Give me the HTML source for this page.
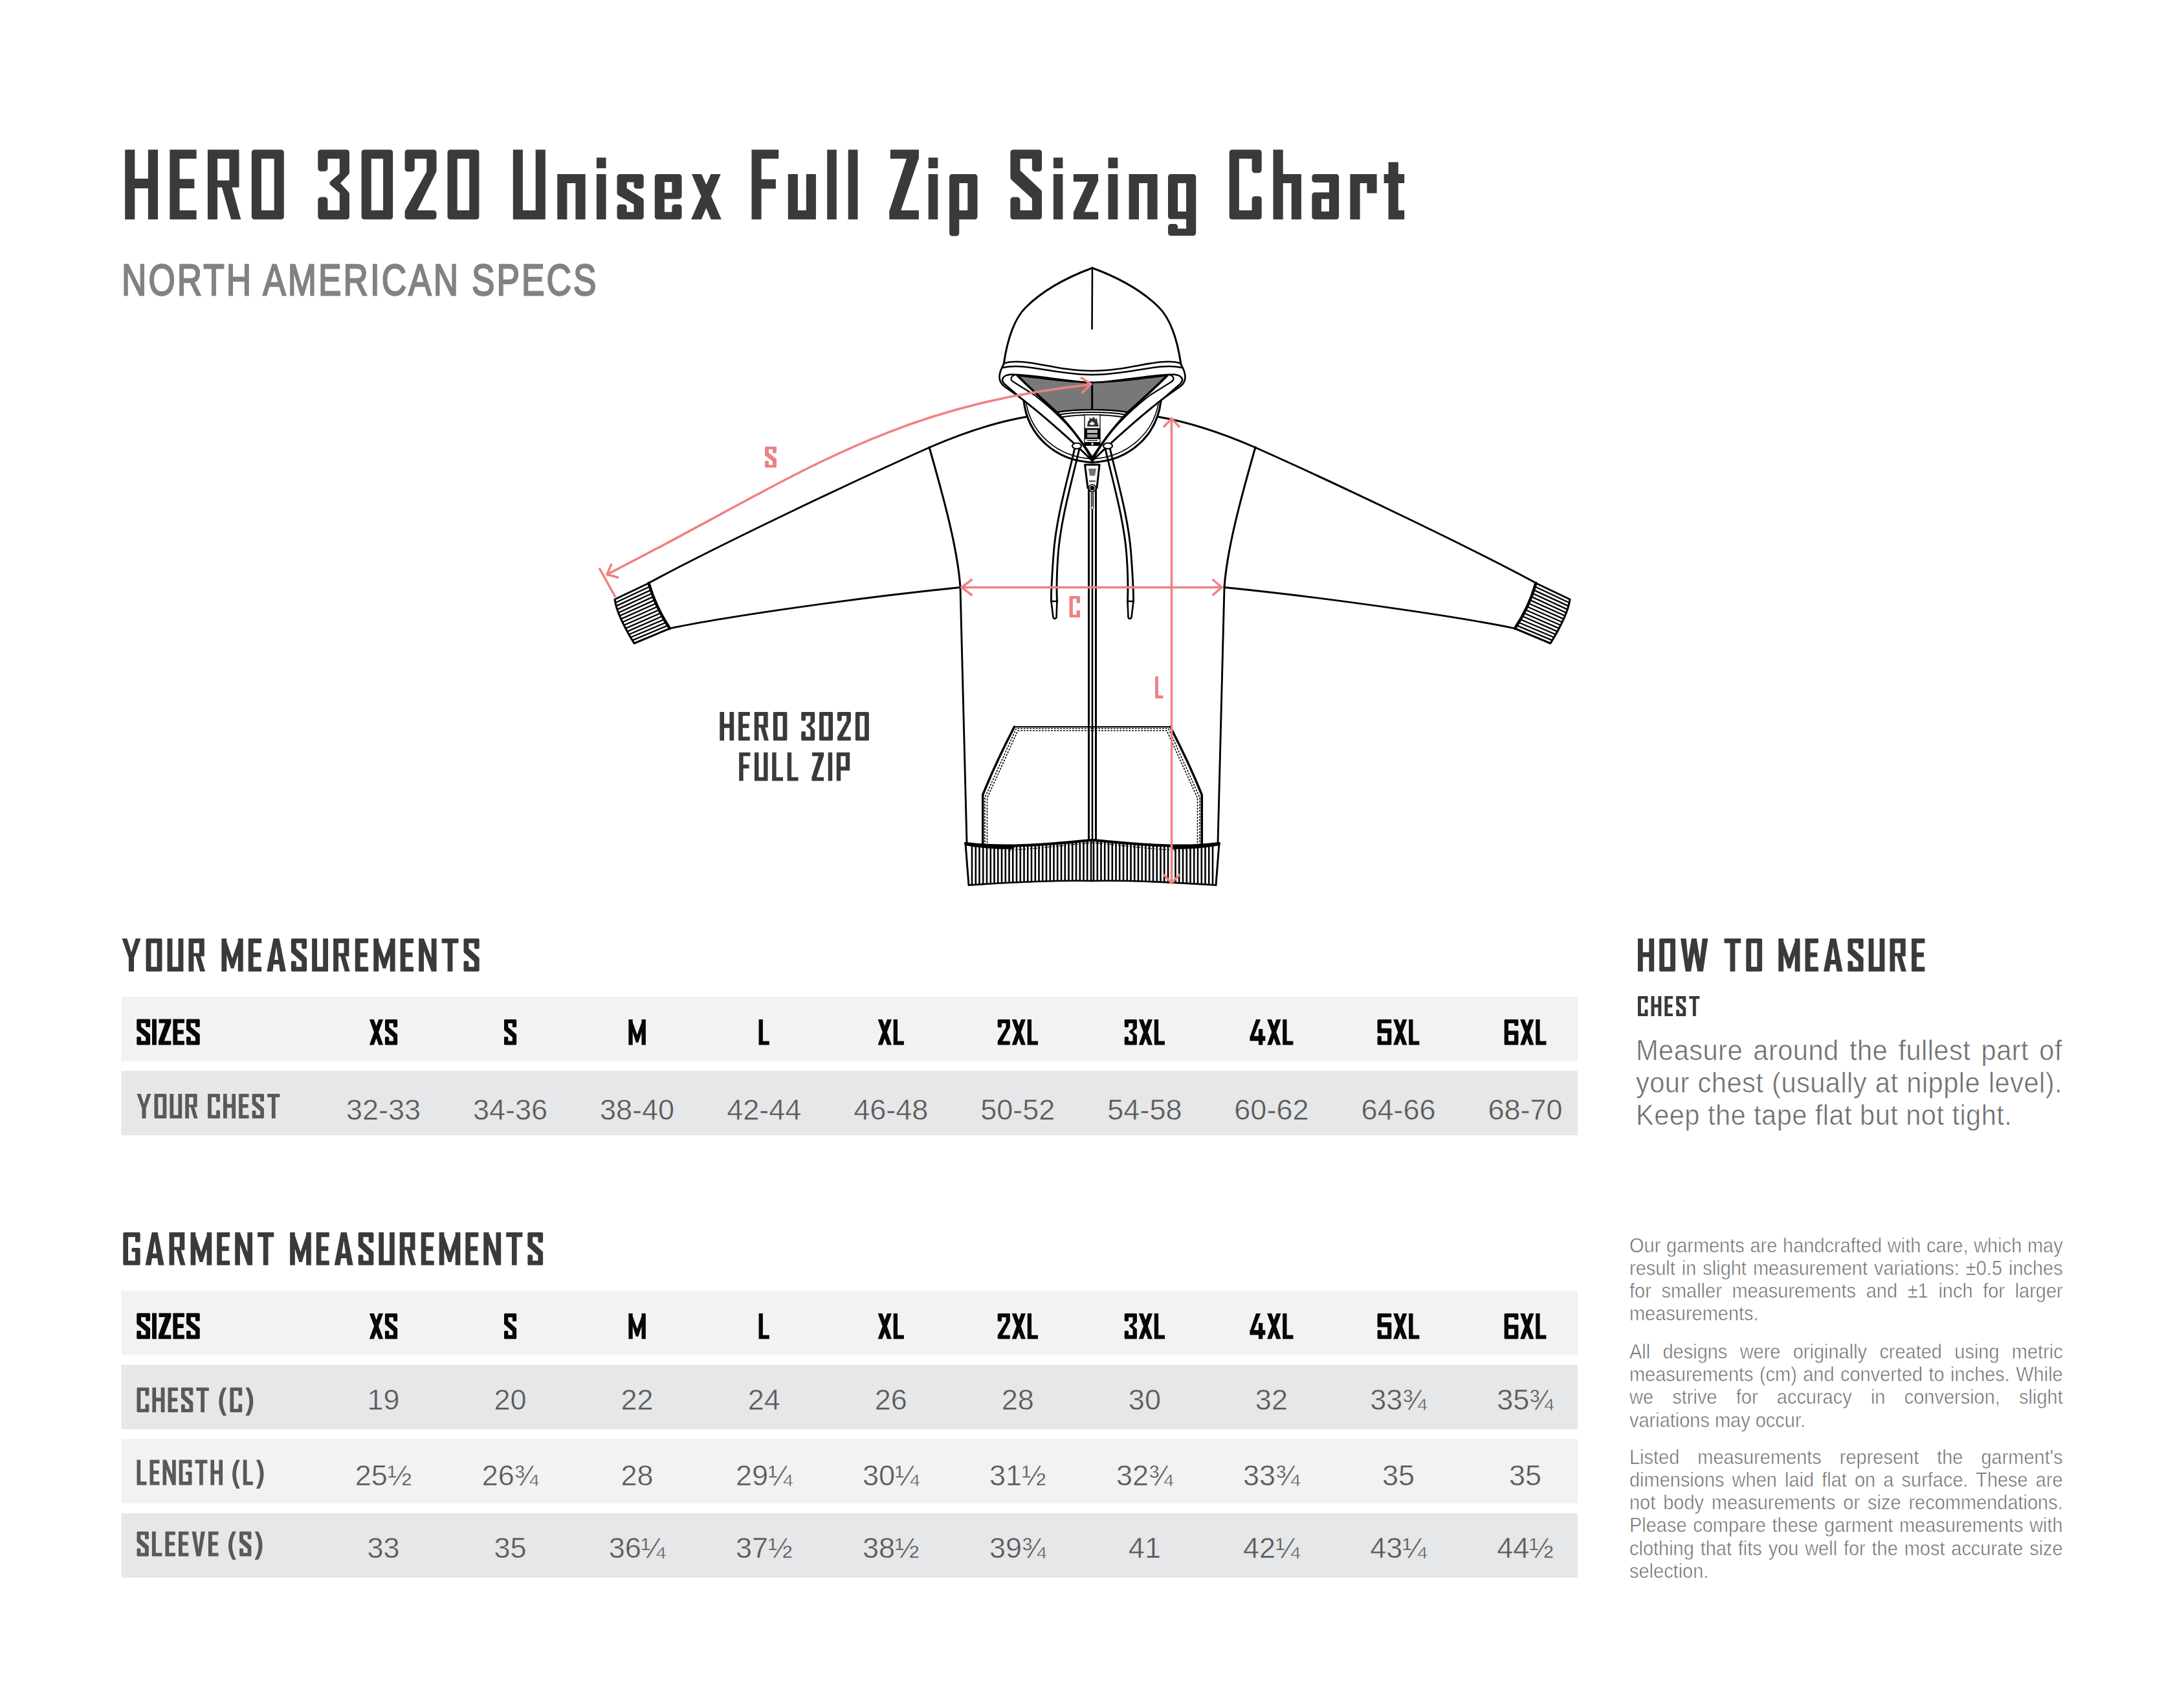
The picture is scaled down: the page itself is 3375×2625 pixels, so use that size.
<!DOCTYPE html>
<html><head><meta charset="utf-8">
<style>
html,body{margin:0;padding:0;background:#fff;}
body{width:3375px;height:2625px;position:relative;overflow:hidden;font-family:"Liberation Sans",sans-serif;}
svg{position:absolute;left:0;top:0;}
.num{font-family:"Liberation Sans",sans-serif;font-size:45px;fill:#58595b;text-anchor:middle;stroke-width:0.5px;paint-order:normal;}
.sub{position:absolute;left:0;top:0;font-size:70px;color:#808285;white-space:nowrap;transform-origin:0 0;-webkit-text-stroke:2.4px #808285;}
.para{position:absolute;color:#6d6e71;transform-origin:0 0;white-space:nowrap;-webkit-text-stroke:0.6px #fff;}
.para div{text-align:justify;text-align-last:justify;}
.para div.last{text-align-last:left;}
</style></head><body>
<svg width="3375" height="2625" viewBox="0 0 3375 2625">
<path fill="#3a3a3c" d="M193.20 231.20L208.33 231.20L208.33 339.10L193.20 339.10ZM228.87 231.20L244.00 231.20L244.00 339.10L228.87 339.10ZM193.20 275.98L244.00 275.98L244.00 291.08L193.20 291.08ZM262.40 231.20L277.58 231.20L277.58 339.10L262.40 339.10ZM262.40 231.20L303.60 231.20L303.60 245.23L262.40 245.23ZM262.40 276.52L300.35 276.52L300.35 291.08L262.40 291.08ZM262.40 325.07L303.60 325.07L303.60 339.10L262.40 339.10ZM320.90 231.20L336.02 231.20L336.02 339.10L320.90 339.10ZM320.90 231.20L369.49 231.20L369.49 245.23L320.90 245.23ZM354.37 231.20L369.49 231.20L369.49 289.47L354.37 289.47ZM320.90 278.68L369.49 278.68L369.49 289.47L320.90 289.47ZM339.80 278.68L355.45 278.68L372.30 339.10L357.18 339.10ZM388.80 334.78L388.80 235.52L389.13 233.86L390.07 232.46L391.47 231.53L393.12 231.20L434.48 231.20L436.13 231.53L437.53 232.46L438.47 233.86L438.80 235.52L438.80 334.78L438.47 336.44L437.53 337.84L436.13 338.77L434.48 339.10L393.12 339.10L391.47 338.77L390.07 337.84L389.13 336.44ZM403.92 245.65L403.92 324.65L403.99 325.00L404.34 325.07L423.26 325.07L423.61 325.00L423.68 324.65L423.68 245.65L423.61 245.30L423.26 245.23L404.34 245.23L403.99 245.30ZM491.30 260.33L491.30 235.52L491.63 233.86L492.57 232.46L493.97 231.53L495.62 231.20L535.58 231.20L537.23 231.53L538.63 232.46L539.57 233.86L539.90 235.52L539.90 266.59L539.59 268.19L538.70 269.57L526.14 282.70L525.95 282.99L526.14 283.29L538.75 296.86L539.60 298.22L539.90 299.79L539.90 334.78L539.57 336.44L538.63 337.84L537.23 338.77L535.58 339.10L495.62 339.10L493.97 338.77L492.57 337.84L491.63 336.44L491.30 334.78L491.30 308.89L491.63 307.24L492.57 305.84L493.97 304.90L495.62 304.57L502.10 304.57L503.75 304.90L505.15 305.84L506.09 307.24L506.42 308.89L506.42 324.65L506.49 325.00L506.85 325.07L524.35 325.07L524.71 325.00L524.78 324.65L524.78 298.57L524.69 298.14L524.42 297.79L510.90 286.33L509.77 284.84L509.37 283.01L509.79 281.18L510.95 279.71L524.41 268.62L524.68 268.27L524.78 267.84L524.78 245.65L524.71 245.30L524.35 245.23L506.85 245.23L506.49 245.30L506.42 245.65L506.42 260.33L506.09 261.98L505.15 263.38L503.75 264.32L502.10 264.65L495.62 264.65L493.97 264.32L492.57 263.38L491.63 261.98ZM558.60 334.78L558.60 235.52L558.93 233.86L559.87 232.46L561.27 231.53L562.92 231.20L602.88 231.20L604.53 231.53L605.93 232.46L606.87 233.86L607.20 235.52L607.20 334.78L606.87 336.44L605.93 337.84L604.53 338.77L602.88 339.10L562.92 339.10L561.27 338.77L559.87 337.84L558.93 336.44ZM573.72 245.65L573.72 324.65L573.79 325.00L574.15 325.07L591.65 325.07L592.01 325.00L592.08 324.65L592.08 245.65L592.01 245.30L591.65 245.23L574.15 245.23L573.79 245.30ZM625.60 260.87L625.60 235.52L625.93 233.86L626.87 232.46L628.28 231.53L629.95 231.20L670.15 231.20L671.82 231.53L673.23 232.46L674.17 233.86L674.50 235.52L674.50 264.18L674.05 266.09L644.89 324.68L644.81 325.01L645.14 325.07L670.15 325.07L671.82 325.40L673.23 326.34L674.17 327.74L674.50 329.39L674.50 334.78L674.17 336.44L673.23 337.84L671.82 338.77L670.15 339.10L629.95 339.10L628.28 338.77L626.87 337.84L625.93 336.44L625.60 334.78L625.60 326.73L626.14 324.64L659.02 265.67L659.29 264.64L659.29 245.65L659.22 245.30L658.86 245.23L641.24 245.23L640.88 245.30L640.81 245.65L640.81 260.87L640.48 262.52L639.54 263.92L638.13 264.86L636.47 265.19L629.95 265.19L628.28 264.86L626.87 263.92L625.93 262.52ZM691.50 334.78L691.50 235.52L691.83 233.86L692.77 232.46L694.18 231.53L695.85 231.20L736.05 231.20L737.72 231.53L739.13 232.46L740.07 233.86L740.40 235.52L740.40 334.78L740.07 336.44L739.13 337.84L737.72 338.77L736.05 339.10L695.85 339.10L694.18 338.77L692.77 337.84L691.83 336.44ZM706.71 245.65L706.71 324.65L706.78 325.00L707.14 325.07L724.76 325.07L725.12 325.00L725.19 324.65L725.19 245.65L725.12 245.30L724.76 245.23L707.14 245.23L706.78 245.30ZM792.80 231.20L807.92 231.20L807.92 339.10L792.80 339.10ZM827.68 231.20L842.80 231.20L842.80 339.10L827.68 339.10ZM792.80 325.07L842.80 325.07L842.80 339.10L792.80 339.10ZM861.20 268.97L876.39 268.97L876.39 339.10L861.20 339.10ZM889.41 268.97L904.60 268.97L904.60 339.10L889.41 339.10ZM861.20 268.97L904.60 268.97L904.60 282.99L861.20 282.99ZM921.90 243.61L936.50 243.61L936.50 260.01L921.90 260.01ZM921.90 268.97L936.50 268.97L936.50 339.10L921.90 339.10ZM953.50 298.21L953.50 273.28L953.83 271.63L954.77 270.23L956.18 269.29L957.84 268.97L990.36 268.97L992.02 269.29L993.43 270.23L994.37 271.63L994.70 273.28L994.70 287.31L994.37 288.96L993.43 290.36L992.02 291.30L990.36 291.62L983.86 291.62L982.20 291.30L980.79 290.36L979.85 288.96L979.52 287.31L979.52 281.91L979.45 281.55L979.09 281.48L969.11 281.48L968.75 281.55L968.68 281.91L968.68 290.72L968.74 291.05L968.99 291.28L992.66 306.00L993.75 306.97L994.46 308.23L994.70 309.66L994.70 334.78L994.37 336.44L993.43 337.84L992.02 338.77L990.36 339.10L957.84 339.10L956.18 338.77L954.77 337.84L953.83 336.44L953.50 334.78L953.50 320.11L953.83 318.46L954.77 317.06L956.18 316.12L957.84 315.79L964.34 315.79L966.00 316.12L967.41 317.06L968.35 318.46L968.68 320.11L968.68 327.13L968.75 327.48L969.11 327.55L979.09 327.55L979.45 327.48L979.52 327.13L979.52 316.17L979.46 315.83L979.19 315.60L955.65 301.94L954.51 300.97L953.76 299.68ZM1011.80 334.78L1011.80 273.28L1012.13 271.63L1013.06 270.23L1014.46 269.29L1016.11 268.97L1049.19 268.97L1050.84 269.29L1052.24 270.23L1053.17 271.63L1053.50 273.28L1053.50 303.06L1053.17 304.71L1052.24 306.11L1050.84 307.05L1049.19 307.38L1027.31 307.38L1026.96 307.45L1026.89 307.80L1026.89 327.13L1026.96 327.48L1027.31 327.55L1037.99 327.55L1038.34 327.48L1038.41 327.13L1038.41 320.11L1038.74 318.46L1039.68 317.06L1041.08 316.12L1042.72 315.79L1049.19 315.79L1050.84 316.12L1052.24 317.06L1053.17 318.46L1053.50 320.11L1053.50 334.78L1053.17 336.44L1052.24 337.84L1050.84 338.77L1049.19 339.10L1016.11 339.10L1014.46 338.77L1013.06 337.84L1012.13 336.44ZM1026.96 281.44L1026.89 281.80L1026.89 297.24L1026.96 297.60L1027.31 297.67L1037.99 297.67L1038.34 297.60L1038.41 297.24L1038.41 281.80L1038.34 281.44L1037.99 281.37L1027.31 281.37ZM1068.97 268.97L1084.17 268.97L1114.80 339.10L1098.73 339.10ZM1098.51 268.97L1113.71 268.97L1083.85 339.10L1068.10 339.10ZM1161.50 231.20L1176.59 231.20L1176.59 339.10L1161.50 339.10ZM1161.50 231.20L1203.20 231.20L1203.20 245.23L1161.50 245.23ZM1161.50 277.06L1198.89 277.06L1198.89 291.62L1161.50 291.62ZM1217.80 268.97L1232.88 268.97L1232.88 339.10L1217.80 339.10ZM1245.82 268.97L1260.90 268.97L1260.90 339.10L1245.82 339.10ZM1217.80 325.07L1260.90 325.07L1260.90 339.10L1217.80 339.10ZM1278.20 231.20L1292.80 231.20L1292.80 339.10L1278.20 339.10ZM1310.70 231.20L1325.50 231.20L1325.50 339.10L1310.70 339.10ZM1375.92 231.20L1419.90 231.20L1419.90 245.23L1375.92 245.23ZM1401.31 244.15L1419.90 244.15L1391.81 326.15L1374.30 326.15ZM1374.30 325.07L1419.90 325.07L1419.90 339.10L1374.30 339.10ZM1434.70 243.61L1449.30 243.61L1449.30 260.01L1434.70 260.01ZM1434.70 268.97L1449.30 268.97L1449.30 339.10L1434.70 339.10ZM1482.36 339.17L1482.29 339.53L1482.29 360.36L1481.96 362.01L1481.02 363.41L1479.61 364.34L1477.95 364.67L1471.44 364.67L1469.78 364.34L1468.37 363.41L1467.43 362.01L1467.10 360.36L1467.10 273.28L1467.43 271.63L1468.37 270.23L1469.78 269.29L1471.44 268.97L1506.16 268.97L1507.82 269.29L1509.23 270.23L1510.17 271.63L1510.50 273.28L1510.50 334.78L1510.17 336.44L1509.23 337.84L1507.82 338.77L1506.16 339.10L1482.72 339.10ZM1482.36 283.06L1482.29 283.42L1482.29 324.65L1482.36 325.00L1482.72 325.07L1494.88 325.07L1495.24 325.00L1495.31 324.65L1495.31 283.42L1495.24 283.06L1494.88 282.99L1482.72 282.99ZM1561.40 274.60L1561.40 235.52L1561.73 233.86L1562.67 232.46L1564.07 231.53L1565.72 231.20L1605.68 231.20L1607.33 231.53L1608.73 232.46L1609.67 233.86L1610.00 235.52L1610.00 260.66L1609.67 262.31L1608.73 263.71L1607.33 264.64L1605.68 264.97L1599.20 264.97L1597.55 264.64L1596.15 263.71L1595.21 262.31L1594.88 260.66L1594.88 245.65L1594.81 245.30L1594.45 245.23L1576.95 245.23L1576.59 245.30L1576.52 245.65L1576.52 263.13L1576.60 263.53L1576.84 263.87L1608.63 293.58L1609.64 295.02L1610.00 296.73L1610.00 334.78L1609.67 336.44L1608.73 337.84L1607.33 338.77L1605.68 339.10L1565.72 339.10L1564.07 338.77L1562.67 337.84L1561.73 336.44L1561.40 334.78L1561.40 308.89L1561.73 307.24L1562.67 305.84L1564.07 304.90L1565.72 304.57L1572.20 304.57L1573.85 304.90L1575.25 305.84L1576.19 307.24L1576.52 308.89L1576.52 324.65L1576.59 325.00L1576.95 325.07L1594.45 325.07L1594.81 325.00L1594.88 324.65L1594.88 307.18L1594.79 306.77L1594.54 306.43L1562.82 277.80L1561.77 276.35ZM1627.90 243.61L1642.40 243.61L1642.40 260.01L1627.90 260.01ZM1627.90 268.97L1642.40 268.97L1642.40 339.10L1627.90 339.10ZM1658.90 268.97L1697.10 268.97L1697.10 280.83L1658.90 280.83ZM1681.45 279.75L1697.10 279.75L1675.41 328.31L1658.90 328.31ZM1658.90 327.55L1697.10 327.55L1697.10 339.10L1658.90 339.10ZM1712.50 243.61L1727.30 243.61L1727.30 260.01L1712.50 260.01ZM1712.50 268.97L1727.30 268.97L1727.30 339.10L1712.50 339.10ZM1744.60 268.97L1760.00 268.97L1760.00 339.10L1744.60 339.10ZM1773.20 268.97L1788.60 268.97L1788.60 339.10L1773.20 339.10ZM1744.60 268.97L1788.60 268.97L1788.60 282.99L1744.60 282.99ZM1805.00 334.24L1805.00 273.28L1805.33 271.63L1806.27 270.23L1807.67 269.29L1809.32 268.97L1843.88 268.97L1845.53 269.29L1846.93 270.23L1847.87 271.63L1848.20 273.28L1848.20 359.92L1847.87 361.58L1846.93 362.98L1845.53 363.91L1843.88 364.24L1820.12 364.24L1809.32 364.24L1807.67 363.91L1806.27 362.98L1805.33 361.58L1805.00 359.92L1805.00 350.32L1805.33 348.67L1806.27 347.27L1807.67 346.33L1809.32 346.01L1815.80 346.01L1817.45 346.33L1818.85 347.27L1819.79 348.67L1820.12 350.32L1820.12 352.70L1820.19 353.06L1820.55 353.13L1832.65 353.13L1833.01 353.06L1833.08 352.70L1833.08 338.99L1833.01 338.63L1832.65 338.56L1809.32 338.56L1807.67 338.23L1806.27 337.30L1805.33 335.90ZM1820.12 283.42L1820.12 326.27L1820.19 326.62L1820.55 326.69L1832.65 326.69L1833.01 326.62L1833.08 326.27L1833.08 283.42L1833.01 283.06L1832.65 282.99L1820.55 282.99L1820.19 283.06ZM1914.89 245.30L1914.82 245.65L1914.82 324.65L1914.89 325.00L1915.24 325.07L1934.16 325.07L1934.51 325.00L1934.58 324.65L1934.58 307.49L1934.91 305.83L1935.85 304.43L1937.25 303.50L1938.90 303.17L1945.38 303.17L1947.03 303.50L1948.43 304.43L1949.37 305.83L1949.70 307.49L1949.70 334.78L1949.37 336.44L1948.43 337.84L1947.03 338.77L1945.38 339.10L1904.02 339.10L1902.37 338.77L1900.97 337.84L1900.03 336.44L1899.70 334.78L1899.70 235.52L1900.03 233.86L1900.97 232.46L1902.37 231.53L1904.02 231.20L1945.38 231.20L1947.03 231.53L1948.43 232.46L1949.37 233.86L1949.70 235.52L1949.70 262.81L1949.37 264.47L1948.43 265.87L1947.03 266.80L1945.38 267.13L1938.90 267.13L1937.25 266.80L1935.85 265.87L1934.91 264.47L1934.58 262.81L1934.58 245.65L1934.51 245.30L1934.16 245.23L1915.24 245.23ZM1967.50 231.20L1982.69 231.20L1982.69 339.10L1967.50 339.10ZM1995.71 268.97L2010.90 268.97L2010.90 339.10L1995.71 339.10ZM1967.50 268.97L2010.90 268.97L2010.90 282.99L1967.50 282.99ZM2053.59 281.91L2031.71 281.91L2030.06 281.58L2028.66 280.65L2027.73 279.25L2027.40 277.60L2027.40 273.28L2027.73 271.63L2028.66 270.23L2030.06 269.29L2031.71 268.97L2064.79 268.97L2066.44 269.29L2067.84 270.23L2068.77 271.63L2069.10 273.28L2069.10 334.78L2068.77 336.44L2067.84 337.84L2066.44 338.77L2064.79 339.10L2031.71 339.10L2030.06 338.77L2028.66 337.84L2027.73 336.44L2027.40 334.78L2027.40 301.66L2027.73 300.01L2028.66 298.61L2030.06 297.67L2031.71 297.34L2053.59 297.34L2053.94 297.27L2054.01 296.92L2054.01 282.34L2053.94 281.98ZM2042.02 307.56L2041.95 307.91L2041.95 326.27L2042.02 326.62L2042.37 326.69L2053.59 326.69L2053.94 326.62L2054.01 326.27L2054.01 307.91L2053.94 307.56L2053.59 307.49L2042.37 307.49ZM2086.40 268.97L2101.58 268.97L2101.58 339.10L2086.40 339.10ZM2086.40 268.97L2127.60 268.97L2127.60 282.99L2086.40 282.99ZM2112.42 268.97L2127.60 268.97L2127.60 298.42L2112.42 298.42ZM2145.57 250.62L2160.83 250.62L2160.83 339.10L2145.57 339.10ZM2138.60 268.97L2170.20 268.97L2170.20 282.99L2138.60 282.99ZM2145.57 325.07L2170.20 325.07L2170.20 339.10L2145.57 339.10Z"/>
<g><path stroke="#000" fill="none" stroke-linecap="round" stroke-linejoin="round" stroke-width="3" d="M1002,901 C1100,848 1300,752 1437,691 C1490,668 1540,652 1586,644"/>
<path stroke="#000" fill="none" stroke-linecap="round" stroke-linejoin="round" stroke-width="2.8" d="M1035,971 C1100,957 1300,926 1484,907.5"/>
<path stroke="#000" fill="none" stroke-linecap="round" stroke-linejoin="round" stroke-width="3" d="M1436,691 C1460,775 1480,850 1484,907.5"/>
<path stroke="#000" fill="none" stroke-linecap="round" stroke-linejoin="round" stroke-width="2.9" d="M1484,907.5 C1486,1000 1490,1150 1494,1302"/>
<path stroke="#000" fill="none" stroke-linecap="round" stroke-linejoin="round" stroke-width="3" d="M950,926 Q953,950 980,994 L1035,971 Q1013,938 1002.5,901 Z"/>
<path stroke="#000" fill="none" stroke-linecap="round" stroke-linejoin="round" stroke-width="4.5" d="M1002.5,901 Q1013,938 1035,971"/>
<path stroke="#000" fill="none" stroke-linecap="round" stroke-linejoin="round" stroke-width="2.3" d="M950.9,931.3 L1004.1,906.3 M952.2,936.4 L1005.8,911.6 M953.8,941.6 L1007.5,916.7 M955.6,946.7 L1009.5,921.9 M957.5,951.5 L1011.6,927.1 M959.6,956.4 L1013.7,932.3 M961.9,961.3 L1016.0,937.3 M964.2,966.0 L1018.4,942.2 M966.8,970.9 L1020.9,947.2 M969.3,975.6 L1023.5,952.0 M971.9,980.2 L1026.3,957.0 M974.5,984.8 L1029.1,961.7 M977.2,989.4 L1032.0,966.4"/>
<path stroke="#000" fill="none" stroke-linecap="round" stroke-linejoin="round" stroke-width="4.2" d="M1492,1303 C1560,1312 1640,1302 1688,1298"/>
<path stroke="#000" fill="none" stroke-linecap="round" stroke-linejoin="round" stroke-width="5" d="M1493,1304 C1515,1308 1540,1309.5 1565,1309.5"/>
<path stroke="#000" fill="none" stroke-width="1.3" stroke-dasharray="2.5 2" d="M1560,1313.5 C1620,1310 1650,1305 1688,1302"/>
<path stroke="#000" fill="none" stroke-linecap="round" stroke-linejoin="round" stroke-width="2.6" d="M1497,1367.5 C1580,1362 1640,1360 1688,1361"/>
<path stroke="#000" fill="none" stroke-linecap="round" stroke-linejoin="round" stroke-width="3" d="M1492,1303 L1497,1367.5"/>
<path stroke="#000" fill="none" stroke-linecap="round" stroke-linejoin="round" stroke-width="2.6" d="M1502.0,1306.2 L1502.0,1367.2 M1507.8,1306.7 L1507.8,1366.8 M1513.5,1307.2 L1513.5,1366.4 M1519.2,1307.6 L1519.2,1366.1 M1525.0,1308.0 L1525.0,1365.7 M1530.8,1308.2 L1530.8,1365.4 M1536.5,1308.4 L1536.5,1365.1 M1542.2,1308.5 L1542.2,1364.7 M1548.0,1308.6 L1548.0,1364.4 M1553.8,1308.6 L1553.8,1364.1 M1559.5,1308.6 L1559.5,1363.8 M1565.2,1308.6 L1565.2,1363.5 M1571.0,1308.4 L1571.0,1363.2 M1576.8,1308.3 L1576.8,1362.9 M1582.5,1308.1 L1582.5,1362.7 M1588.2,1307.8 L1588.2,1362.5 M1594.0,1307.5 L1594.0,1362.2 M1599.8,1307.3 L1599.8,1362.0 M1605.5,1306.9 L1605.5,1361.8 M1611.2,1306.6 L1611.2,1361.6 M1617.0,1306.2 L1617.0,1361.5 M1622.8,1305.7 L1622.8,1361.3 M1628.5,1305.3 L1628.5,1361.2 M1634.2,1304.8 L1634.2,1361.0 M1640.0,1304.3 L1640.0,1360.9 M1645.8,1303.8 L1645.8,1360.9 M1651.5,1303.3 L1651.5,1360.8 M1657.2,1302.8 L1657.2,1360.8 M1663.0,1302.3 L1663.0,1360.8 M1668.8,1301.7 L1668.8,1360.8 M1674.5,1301.2 L1674.5,1360.8 M1680.2,1300.6 L1680.2,1360.9 M1686.0,1300.2 L1686.0,1361.0"/>
<path stroke="#000" fill="none" stroke-linecap="round" stroke-linejoin="round" stroke-width="2.2" d="M1688,1123 L1567.5,1123"/>
<path stroke="#000" fill="none" stroke-linecap="round" stroke-linejoin="round" stroke-width="3.6" d="M1567.5,1123 Q1538,1180 1518.75,1228 L1518.75,1304"/>
<path stroke="#000" fill="none" stroke-width="1.6" stroke-dasharray="2.8 1.9" d="M1688,1125.5 L1570.5,1125.5 L1522,1232 L1522,1304"/>
<path stroke="#000" fill="none" stroke-width="1.6" stroke-dasharray="2.8 1.9" d="M1688,1128.8 L1573,1128.8 L1525.5,1233 L1525.5,1304"/>
<path stroke="#000" fill="none" stroke-linecap="round" stroke-linejoin="round" stroke-width="3" d="M1551,563 C1558,515 1572,488 1585,475 C1612,448 1650,428 1688,414"/>
<path stroke="#000" fill="none" stroke-linecap="round" stroke-linejoin="round" stroke-width="2.6" d="M1552,561 C1585,552 1630,573 1688,573"/>
<path stroke="#000" fill="none" stroke-linecap="round" stroke-linejoin="round" stroke-width="2.4" d="M1550,568 C1585,560 1630,579 1688,579"/>
<path stroke="#000" fill="none" stroke-linecap="round" stroke-linejoin="round" stroke-width="2.6" d="M1551,563 C1544,575 1540,588 1552,597 L1578,615.5 C1610,640 1660,684 1688,712"/>
<path stroke="#000" stroke-width="2.4" fill="#787878" stroke-linejoin="round" d="M1572,580 C1615,585 1650,591 1688,591 L1688,633 C1670,633 1650,634 1633,637 C1610,615 1590,598 1572,580 Z"/>
<path stroke="#000" fill="none" stroke-linecap="round" stroke-linejoin="round" stroke-width="2.6" d="M1688,591 C1650,590 1600,579 1563,578.5 C1551,579 1545,586 1552,593 L1578,615.5 C1610,640 1660,684 1688,712"/>
<path stroke="#000" fill="none" stroke-linecap="round" stroke-linejoin="round" stroke-width="2.2" d="M1568,579.5 C1561,582 1561,587 1566,590 L1598,610 C1632,636 1662,666 1688,706"/>
<path stroke="#000" fill="none" stroke-linecap="round" stroke-linejoin="round" stroke-width="3.5" d="M1572,580 C1600,608 1620,625 1633,637 C1655,660 1675,685 1688,711"/>
<path stroke="#000" fill="none" stroke-linecap="round" stroke-linejoin="round" stroke-width="2.2" d="M1635,641 C1650,638 1670,637 1688,637"/>
<path stroke="#000" fill="none" stroke-linecap="round" stroke-linejoin="round" stroke-width="2" d="M1640,644.5 C1655,642 1672,641 1688,641"/>
<path stroke="#000" fill="none" stroke-linecap="round" stroke-linejoin="round" stroke-width="3.2" d="M1582,619 C1588,672 1630,712 1688,714.5"/>
<path stroke="#000" fill="none" stroke-linecap="round" stroke-linejoin="round" stroke-width="1.6" d="M1586,624 C1594,668 1632,706 1688,709"/>
<path stroke="#000" fill="none" stroke-linecap="round" stroke-linejoin="round" stroke-width="2.9" d="M1661,692 C1650,740 1632,800 1628,857 C1625,900 1624,915 1624.5,930"/>
<path stroke="#000" fill="none" stroke-linecap="round" stroke-linejoin="round" stroke-width="2.9" d="M1668,693 C1657,742 1639,802 1635,858 C1632,900 1633,915 1633.5,930"/>
<path stroke="#000" stroke-width="2.6" fill="#fff" stroke-linejoin="round" d="M1624.5,929 L1633.5,929 L1632.5,954 Q1630,958 1627.5,954 Z"/>
<ellipse cx="1664" cy="689" rx="7" ry="4.5" stroke="#000" stroke-width="2.2" fill="#fff"/></g>
<g transform="translate(3376,0) scale(-1,1)"><path stroke="#000" fill="none" stroke-linecap="round" stroke-linejoin="round" stroke-width="3" d="M1002,901 C1100,848 1300,752 1437,691 C1490,668 1540,652 1586,644"/>
<path stroke="#000" fill="none" stroke-linecap="round" stroke-linejoin="round" stroke-width="2.8" d="M1035,971 C1100,957 1300,926 1484,907.5"/>
<path stroke="#000" fill="none" stroke-linecap="round" stroke-linejoin="round" stroke-width="3" d="M1436,691 C1460,775 1480,850 1484,907.5"/>
<path stroke="#000" fill="none" stroke-linecap="round" stroke-linejoin="round" stroke-width="2.9" d="M1484,907.5 C1486,1000 1490,1150 1494,1302"/>
<path stroke="#000" fill="none" stroke-linecap="round" stroke-linejoin="round" stroke-width="3" d="M950,926 Q953,950 980,994 L1035,971 Q1013,938 1002.5,901 Z"/>
<path stroke="#000" fill="none" stroke-linecap="round" stroke-linejoin="round" stroke-width="4.5" d="M1002.5,901 Q1013,938 1035,971"/>
<path stroke="#000" fill="none" stroke-linecap="round" stroke-linejoin="round" stroke-width="2.3" d="M950.9,931.3 L1004.1,906.3 M952.2,936.4 L1005.8,911.6 M953.8,941.6 L1007.5,916.7 M955.6,946.7 L1009.5,921.9 M957.5,951.5 L1011.6,927.1 M959.6,956.4 L1013.7,932.3 M961.9,961.3 L1016.0,937.3 M964.2,966.0 L1018.4,942.2 M966.8,970.9 L1020.9,947.2 M969.3,975.6 L1023.5,952.0 M971.9,980.2 L1026.3,957.0 M974.5,984.8 L1029.1,961.7 M977.2,989.4 L1032.0,966.4"/>
<path stroke="#000" fill="none" stroke-linecap="round" stroke-linejoin="round" stroke-width="4.2" d="M1492,1303 C1560,1312 1640,1302 1688,1298"/>
<path stroke="#000" fill="none" stroke-linecap="round" stroke-linejoin="round" stroke-width="5" d="M1493,1304 C1515,1308 1540,1309.5 1565,1309.5"/>
<path stroke="#000" fill="none" stroke-width="1.3" stroke-dasharray="2.5 2" d="M1560,1313.5 C1620,1310 1650,1305 1688,1302"/>
<path stroke="#000" fill="none" stroke-linecap="round" stroke-linejoin="round" stroke-width="2.6" d="M1497,1367.5 C1580,1362 1640,1360 1688,1361"/>
<path stroke="#000" fill="none" stroke-linecap="round" stroke-linejoin="round" stroke-width="3" d="M1492,1303 L1497,1367.5"/>
<path stroke="#000" fill="none" stroke-linecap="round" stroke-linejoin="round" stroke-width="2.6" d="M1502.0,1306.2 L1502.0,1367.2 M1507.8,1306.7 L1507.8,1366.8 M1513.5,1307.2 L1513.5,1366.4 M1519.2,1307.6 L1519.2,1366.1 M1525.0,1308.0 L1525.0,1365.7 M1530.8,1308.2 L1530.8,1365.4 M1536.5,1308.4 L1536.5,1365.1 M1542.2,1308.5 L1542.2,1364.7 M1548.0,1308.6 L1548.0,1364.4 M1553.8,1308.6 L1553.8,1364.1 M1559.5,1308.6 L1559.5,1363.8 M1565.2,1308.6 L1565.2,1363.5 M1571.0,1308.4 L1571.0,1363.2 M1576.8,1308.3 L1576.8,1362.9 M1582.5,1308.1 L1582.5,1362.7 M1588.2,1307.8 L1588.2,1362.5 M1594.0,1307.5 L1594.0,1362.2 M1599.8,1307.3 L1599.8,1362.0 M1605.5,1306.9 L1605.5,1361.8 M1611.2,1306.6 L1611.2,1361.6 M1617.0,1306.2 L1617.0,1361.5 M1622.8,1305.7 L1622.8,1361.3 M1628.5,1305.3 L1628.5,1361.2 M1634.2,1304.8 L1634.2,1361.0 M1640.0,1304.3 L1640.0,1360.9 M1645.8,1303.8 L1645.8,1360.9 M1651.5,1303.3 L1651.5,1360.8 M1657.2,1302.8 L1657.2,1360.8 M1663.0,1302.3 L1663.0,1360.8 M1668.8,1301.7 L1668.8,1360.8 M1674.5,1301.2 L1674.5,1360.8 M1680.2,1300.6 L1680.2,1360.9 M1686.0,1300.2 L1686.0,1361.0"/>
<path stroke="#000" fill="none" stroke-linecap="round" stroke-linejoin="round" stroke-width="2.2" d="M1688,1123 L1567.5,1123"/>
<path stroke="#000" fill="none" stroke-linecap="round" stroke-linejoin="round" stroke-width="3.6" d="M1567.5,1123 Q1538,1180 1518.75,1228 L1518.75,1304"/>
<path stroke="#000" fill="none" stroke-width="1.6" stroke-dasharray="2.8 1.9" d="M1688,1125.5 L1570.5,1125.5 L1522,1232 L1522,1304"/>
<path stroke="#000" fill="none" stroke-width="1.6" stroke-dasharray="2.8 1.9" d="M1688,1128.8 L1573,1128.8 L1525.5,1233 L1525.5,1304"/>
<path stroke="#000" fill="none" stroke-linecap="round" stroke-linejoin="round" stroke-width="3" d="M1551,563 C1558,515 1572,488 1585,475 C1612,448 1650,428 1688,414"/>
<path stroke="#000" fill="none" stroke-linecap="round" stroke-linejoin="round" stroke-width="2.6" d="M1552,561 C1585,552 1630,573 1688,573"/>
<path stroke="#000" fill="none" stroke-linecap="round" stroke-linejoin="round" stroke-width="2.4" d="M1550,568 C1585,560 1630,579 1688,579"/>
<path stroke="#000" fill="none" stroke-linecap="round" stroke-linejoin="round" stroke-width="2.6" d="M1551,563 C1544,575 1540,588 1552,597 L1578,615.5 C1610,640 1660,684 1688,712"/>
<path stroke="#000" stroke-width="2.4" fill="#787878" stroke-linejoin="round" d="M1572,580 C1615,585 1650,591 1688,591 L1688,633 C1670,633 1650,634 1633,637 C1610,615 1590,598 1572,580 Z"/>
<path stroke="#000" fill="none" stroke-linecap="round" stroke-linejoin="round" stroke-width="2.6" d="M1688,591 C1650,590 1600,579 1563,578.5 C1551,579 1545,586 1552,593 L1578,615.5 C1610,640 1660,684 1688,712"/>
<path stroke="#000" fill="none" stroke-linecap="round" stroke-linejoin="round" stroke-width="2.2" d="M1568,579.5 C1561,582 1561,587 1566,590 L1598,610 C1632,636 1662,666 1688,706"/>
<path stroke="#000" fill="none" stroke-linecap="round" stroke-linejoin="round" stroke-width="3.5" d="M1572,580 C1600,608 1620,625 1633,637 C1655,660 1675,685 1688,711"/>
<path stroke="#000" fill="none" stroke-linecap="round" stroke-linejoin="round" stroke-width="2.2" d="M1635,641 C1650,638 1670,637 1688,637"/>
<path stroke="#000" fill="none" stroke-linecap="round" stroke-linejoin="round" stroke-width="2" d="M1640,644.5 C1655,642 1672,641 1688,641"/>
<path stroke="#000" fill="none" stroke-linecap="round" stroke-linejoin="round" stroke-width="3.2" d="M1582,619 C1588,672 1630,712 1688,714.5"/>
<path stroke="#000" fill="none" stroke-linecap="round" stroke-linejoin="round" stroke-width="1.6" d="M1586,624 C1594,668 1632,706 1688,709"/>
<path stroke="#000" fill="none" stroke-linecap="round" stroke-linejoin="round" stroke-width="2.9" d="M1661,692 C1650,740 1632,800 1628,857 C1625,900 1624,915 1624.5,930"/>
<path stroke="#000" fill="none" stroke-linecap="round" stroke-linejoin="round" stroke-width="2.9" d="M1668,693 C1657,742 1639,802 1635,858 C1632,900 1633,915 1633.5,930"/>
<path stroke="#000" stroke-width="2.6" fill="#fff" stroke-linejoin="round" d="M1624.5,929 L1633.5,929 L1632.5,954 Q1630,958 1627.5,954 Z"/>
<ellipse cx="1664" cy="689" rx="7" ry="4.5" stroke="#000" stroke-width="2.2" fill="#fff"/></g>
<path stroke="#000" fill="none" stroke-width="2.6" d="M1688,414 L1687.5,509"/>
<path stroke="#000" fill="none" stroke-width="2.4" d="M1687.5,591 L1687.5,633"/>
<path stroke="#000" fill="none" stroke-width="3" d="M1682.5,750 L1682.5,1299 M1693.5,750 L1693.5,1299"/>
<path stroke="#000" fill="none" stroke-width="2.6" d="M1688,786 L1688,1299"/>
<path stroke="#000" fill="none" stroke-width="0.9" d="M1686.2,760 L1686.2,786 M1689.8,760 L1689.8,786"/>
<path stroke="#000" stroke-width="3" fill="#fff" stroke-linejoin="round" d="M1676.5,718 L1699,718 L1695,754 L1681,754 Z"/>
<path fill="#000" d="M1682,724 L1694,724 L1692,735 L1684,735 Z" opacity="0.55"/>
<rect x="1683" y="742" width="10" height="3" fill="#777"/>
<circle cx="1688" cy="754" r="5.5" stroke="#000" stroke-width="1.6" fill="#fff"/>
<circle cx="1688" cy="754" r="3.6" fill="#000"/>
<path stroke="#000" fill="none" stroke-width="3" stroke-dasharray="1.4 1" d="M1688,761 L1688,783"/>
<rect x="1676" y="641" width="24" height="47" fill="#fff" stroke="#000" stroke-width="1.3"/>
<path fill="#000" d="M1680,659 L1681,652 L1684,648 L1683,645 L1687,647 L1690,644 L1693,648 L1695,646 L1696,652 L1698,659 Z" opacity="0.8"/>
<path fill="#fff" d="M1683,655 L1688,651 L1692,655 L1688,657 Z"/>
<rect x="1676" y="661.5" width="24" height="17" fill="#000"/>
<rect x="1680" y="664" width="16" height="5" fill="#bbb"/>
<rect x="1680" y="671" width="16" height="5" fill="#999"/>
<rect x="1680" y="680" width="16" height="1.2" fill="#000"/>
<rect x="1676" y="683" width="24" height="5.5" fill="#000"/>
<rect x="1686.5" y="684" width="3" height="3.5" fill="#ddd"/>
<path stroke="#ef8182" fill="none" stroke-width="3.5" stroke-linecap="butt" stroke-linejoin="miter" d="M938,887.5 C1227,741 1364,629 1686,594"/>
<path stroke="#ef8182" fill="none" stroke-width="3.5" stroke-linecap="butt" stroke-linejoin="miter" d="M926,877.5 L951,922.5"/>
<path stroke="#ef8182" fill="none" stroke-width="3.5" stroke-linecap="butt" stroke-linejoin="miter" d="M945,871 L938,887.5 L956,892.5"/>
<path stroke="#ef8182" fill="none" stroke-width="3.5" stroke-linecap="butt" stroke-linejoin="miter" d="M1670,583 L1686,593.5 L1671.5,607.5"/>
<path stroke="#ef8182" fill="none" stroke-width="3.5" stroke-linecap="butt" stroke-linejoin="miter" d="M1485,907.5 L1889,907.5"/>
<path stroke="#ef8182" fill="none" stroke-width="3.5" stroke-linecap="butt" stroke-linejoin="miter" d="M1502.5,895 L1486,907.5 L1502.5,920"/>
<path stroke="#ef8182" fill="none" stroke-width="3.5" stroke-linecap="butt" stroke-linejoin="miter" d="M1873.5,895 L1888,907.5 L1873.5,920"/>
<path stroke="#ef8182" fill="none" stroke-width="3.5" stroke-linecap="butt" stroke-linejoin="miter" d="M1810.5,646 L1810.5,1365"/>
<path stroke="#ef8182" fill="none" stroke-width="3.5" stroke-linecap="butt" stroke-linejoin="miter" d="M1798,660 L1810.5,646.5 L1823,660"/>
<path stroke="#ef8182" fill="none" stroke-width="3.5" stroke-linecap="butt" stroke-linejoin="miter" d="M1798,1351 L1810.5,1364.5 L1823,1351"/>
<path fill="#3a3a3c" d="M1112.30 1099.90L1119.04 1099.90L1119.04 1144.30L1112.30 1144.30ZM1127.41 1099.90L1134.15 1099.90L1134.15 1144.30L1127.41 1144.30ZM1112.30 1118.33L1134.15 1118.33L1134.15 1124.76L1112.30 1124.76ZM1141.12 1099.90L1147.86 1099.90L1147.86 1144.30L1141.12 1144.30ZM1141.12 1099.90L1158.78 1099.90L1158.78 1105.89L1141.12 1105.89ZM1141.12 1118.55L1157.39 1118.55L1157.39 1124.76L1141.12 1124.76ZM1141.12 1138.31L1158.78 1138.31L1158.78 1144.30L1141.12 1144.30ZM1165.75 1099.90L1172.49 1099.90L1172.49 1144.30L1165.75 1144.30ZM1165.75 1099.90L1186.67 1099.90L1186.67 1105.89L1165.75 1105.89ZM1179.93 1099.90L1186.67 1099.90L1186.67 1123.88L1179.93 1123.88ZM1165.75 1119.44L1186.67 1119.44L1186.67 1123.88L1165.75 1123.88ZM1174.12 1119.44L1180.86 1119.44L1187.88 1144.30L1181.14 1144.30ZM1194.85 1142.52L1194.85 1101.68L1194.99 1101.00L1195.40 1100.42L1196.00 1100.04L1196.71 1099.90L1214.51 1099.90L1215.22 1100.04L1215.83 1100.42L1216.23 1101.00L1216.37 1101.68L1216.37 1142.52L1216.23 1143.20L1215.83 1143.78L1215.22 1144.16L1214.51 1144.30L1196.71 1144.30L1196.00 1144.16L1195.40 1143.78L1194.99 1143.20ZM1201.59 1106.07L1201.59 1138.13L1201.62 1138.28L1201.77 1138.31L1209.45 1138.31L1209.60 1138.28L1209.63 1138.13L1209.63 1106.07L1209.60 1105.92L1209.45 1105.89L1201.77 1105.89L1201.62 1105.92ZM1238.22 1111.89L1238.22 1101.68L1238.36 1101.00L1238.76 1100.42L1239.37 1100.04L1240.08 1099.90L1257.27 1099.90L1257.99 1100.04L1258.59 1100.42L1258.99 1101.00L1259.13 1101.68L1259.13 1114.44L1258.99 1115.12L1258.59 1115.69L1252.99 1121.09L1252.90 1121.21L1252.98 1121.34L1258.61 1126.91L1259.00 1127.48L1259.13 1128.14L1259.13 1142.52L1258.99 1143.20L1258.59 1143.78L1257.99 1144.16L1257.27 1144.30L1240.08 1144.30L1239.37 1144.16L1238.76 1143.78L1238.36 1143.20L1238.22 1142.52L1238.22 1131.87L1238.36 1131.19L1238.76 1130.61L1239.37 1130.23L1240.08 1130.09L1243.10 1130.09L1243.81 1130.23L1244.41 1130.61L1244.82 1131.19L1244.96 1131.87L1244.96 1138.13L1244.99 1138.28L1245.14 1138.31L1252.21 1138.31L1252.36 1138.28L1252.39 1138.13L1252.39 1127.62L1252.36 1127.44L1252.24 1127.30L1246.58 1122.57L1246.11 1121.96L1245.94 1121.22L1246.12 1120.48L1246.60 1119.88L1252.24 1115.30L1252.35 1115.16L1252.39 1114.98L1252.39 1106.07L1252.36 1105.92L1252.21 1105.89L1245.14 1105.89L1244.99 1105.92L1244.96 1106.07L1244.96 1111.89L1244.82 1112.57L1244.41 1113.14L1243.81 1113.53L1243.10 1113.66L1240.08 1113.66L1239.37 1113.53L1238.76 1113.14L1238.36 1112.57ZM1266.11 1142.52L1266.11 1101.68L1266.25 1101.00L1266.65 1100.42L1267.25 1100.04L1267.97 1099.90L1285.16 1099.90L1285.87 1100.04L1286.48 1100.42L1286.88 1101.00L1287.02 1101.68L1287.02 1142.52L1286.88 1143.20L1286.48 1143.78L1285.87 1144.16L1285.16 1144.30L1267.97 1144.30L1267.25 1144.16L1266.65 1143.78L1266.25 1143.20ZM1272.85 1106.07L1272.85 1138.13L1272.88 1138.28L1273.03 1138.31L1280.10 1138.31L1280.25 1138.28L1280.28 1138.13L1280.28 1106.07L1280.25 1105.92L1280.10 1105.89L1273.03 1105.89L1272.88 1105.92ZM1293.99 1112.11L1293.99 1101.68L1294.14 1101.00L1294.54 1100.42L1295.14 1100.04L1295.85 1099.90L1313.05 1099.90L1313.76 1100.04L1314.37 1100.42L1314.77 1101.00L1314.91 1101.68L1314.91 1113.47L1314.72 1114.26L1302.25 1138.14L1302.21 1138.28L1302.35 1138.31L1313.05 1138.31L1313.76 1138.44L1314.37 1138.83L1314.77 1139.40L1314.91 1140.08L1314.91 1142.52L1314.77 1143.20L1314.37 1143.78L1313.76 1144.16L1313.05 1144.30L1295.85 1144.30L1295.14 1144.16L1294.54 1143.78L1294.14 1143.20L1293.99 1142.52L1293.99 1138.98L1294.22 1138.13L1308.06 1114.08L1308.17 1113.66L1308.17 1106.07L1308.14 1105.92L1307.99 1105.89L1300.92 1105.89L1300.76 1105.92L1300.73 1106.07L1300.73 1112.11L1300.59 1112.79L1300.19 1113.37L1299.59 1113.75L1298.88 1113.89L1295.85 1113.89L1295.14 1113.75L1294.54 1113.37L1294.14 1112.79ZM1321.88 1142.52L1321.88 1101.68L1322.03 1101.00L1322.43 1100.42L1323.03 1100.04L1323.74 1099.90L1340.94 1099.90L1341.65 1100.04L1342.26 1100.42L1342.66 1101.00L1342.80 1101.68L1342.80 1142.52L1342.66 1143.20L1342.26 1143.78L1341.65 1144.16L1340.94 1144.30L1323.74 1144.30L1323.03 1144.16L1322.43 1143.78L1322.03 1143.20ZM1328.62 1106.07L1328.62 1138.13L1328.65 1138.28L1328.81 1138.31L1335.88 1138.31L1336.03 1138.28L1336.06 1138.13L1336.06 1106.07L1336.03 1105.92L1335.88 1105.89L1328.81 1105.89L1328.65 1105.92Z"/>
<path fill="#3a3a3c" d="M1142.20 1162.40L1148.63 1162.40L1148.63 1206.60L1142.20 1206.60ZM1142.20 1162.40L1159.36 1162.40L1159.36 1168.37L1142.20 1168.37ZM1142.20 1181.18L1157.58 1181.18L1157.58 1187.37L1142.20 1187.37ZM1166.01 1162.40L1172.44 1162.40L1172.44 1206.60L1166.01 1206.60ZM1180.11 1162.40L1186.53 1162.40L1186.53 1206.60L1180.11 1206.60ZM1166.01 1200.63L1186.53 1200.63L1186.53 1206.60L1166.01 1206.60ZM1193.19 1162.40L1199.61 1162.40L1199.61 1206.60L1193.19 1206.60ZM1193.19 1200.63L1210.03 1200.63L1210.03 1206.60L1193.19 1206.60ZM1216.68 1162.40L1223.11 1162.40L1223.11 1206.60L1216.68 1206.60ZM1216.68 1200.63L1233.53 1200.63L1233.53 1206.60L1216.68 1206.60ZM1255.03 1162.40L1273.08 1162.40L1273.08 1168.37L1255.03 1168.37ZM1265.18 1167.93L1273.08 1167.93L1261.82 1201.07L1254.37 1201.07ZM1254.37 1200.63L1273.08 1200.63L1273.08 1206.60L1254.37 1206.60ZM1279.73 1162.40L1286.16 1162.40L1286.16 1206.60L1279.73 1206.60ZM1292.81 1162.40L1299.23 1162.40L1299.23 1206.60L1292.81 1206.60ZM1292.81 1162.40L1313.20 1162.40L1313.20 1168.37L1292.81 1168.37ZM1306.77 1162.40L1313.20 1162.40L1313.20 1190.56L1306.77 1190.56ZM1292.81 1184.59L1313.20 1184.59L1313.20 1190.56L1292.81 1190.56Z"/>
<path fill="#ef8182" d="M1182.00 703.09L1182.00 691.30L1182.12 690.80L1182.47 690.38L1182.99 690.10L1183.60 690.00L1198.40 690.00L1199.01 690.10L1199.53 690.38L1199.88 690.80L1200.00 691.30L1200.00 698.87L1199.88 699.37L1199.53 699.79L1199.01 700.07L1198.40 700.17L1195.60 700.17L1194.99 700.07L1194.47 699.79L1194.12 699.37L1194.00 698.87L1194.00 694.35L1193.97 694.25L1193.84 694.23L1188.16 694.23L1188.03 694.25L1188.00 694.35L1188.00 699.62L1188.03 699.74L1188.12 699.84L1199.51 708.79L1199.87 709.22L1200.00 709.73L1200.00 721.20L1199.88 721.70L1199.53 722.12L1199.01 722.40L1198.40 722.50L1183.60 722.50L1182.99 722.40L1182.47 722.12L1182.12 721.70L1182.00 721.20L1182.00 713.40L1182.12 712.90L1182.47 712.48L1182.99 712.20L1183.60 712.10L1186.40 712.10L1187.01 712.20L1187.53 712.48L1187.88 712.90L1188.00 713.40L1188.00 718.15L1188.03 718.25L1188.16 718.27L1193.84 718.27L1193.97 718.25L1194.00 718.15L1194.00 712.88L1193.97 712.76L1193.88 712.66L1182.51 704.04L1182.13 703.60Z"/>
<path fill="#ef8182" d="M1657.87 925.31L1657.85 925.42L1657.85 949.58L1657.87 949.69L1657.99 949.71L1663.51 949.71L1663.63 949.69L1663.65 949.58L1663.65 944.33L1663.76 943.83L1664.07 943.40L1664.53 943.11L1665.08 943.01L1667.57 943.01L1668.12 943.11L1668.58 943.40L1668.89 943.83L1669.00 944.33L1669.00 952.68L1668.89 953.19L1668.58 953.61L1668.12 953.90L1667.57 954.00L1653.93 954.00L1653.38 953.90L1652.92 953.61L1652.61 953.19L1652.50 952.68L1652.50 922.32L1652.61 921.81L1652.92 921.39L1653.38 921.10L1653.93 921.00L1667.57 921.00L1668.12 921.10L1668.58 921.39L1668.89 921.81L1669.00 922.32L1669.00 930.67L1668.89 931.17L1668.58 931.60L1668.12 931.89L1667.57 931.99L1665.08 931.99L1664.53 931.89L1664.07 931.60L1663.76 931.17L1663.65 930.67L1663.65 925.42L1663.63 925.31L1663.51 925.29L1657.99 925.29Z"/>
<path fill="#ef8182" d="M1785.00 1045.00L1789.93 1045.00L1789.93 1079.00L1785.00 1079.00ZM1785.00 1074.58L1797.50 1074.58L1797.50 1079.00L1785.00 1079.00Z"/>
<path fill="#3a3a3c" d="M188.50 1450.00L196.35 1450.00L202.99 1471.42L209.64 1450.00L217.49 1450.00L207.07 1479.58L207.07 1501.00L198.92 1501.00L198.92 1479.58ZM225.59 1498.96L225.59 1452.04L225.75 1451.26L226.19 1450.60L226.84 1450.16L227.62 1450.00L248.42 1450.00L249.20 1450.16L249.86 1450.60L250.30 1451.26L250.45 1452.04L250.45 1498.96L250.30 1499.74L249.86 1500.40L249.20 1500.84L248.42 1501.00L227.62 1501.00L226.84 1500.84L226.19 1500.40L225.75 1499.74ZM233.44 1457.34L233.44 1493.66L233.48 1493.83L233.64 1493.86L242.40 1493.86L242.57 1493.83L242.60 1493.66L242.60 1457.34L242.57 1457.17L242.40 1457.14L233.64 1457.14L233.48 1457.17ZM258.55 1450.00L266.40 1450.00L266.40 1501.00L258.55 1501.00ZM275.56 1450.00L283.41 1450.00L283.41 1501.00L275.56 1501.00ZM258.55 1493.86L283.41 1493.86L283.41 1501.00L258.55 1501.00ZM291.51 1450.00L299.36 1450.00L299.36 1501.00L291.51 1501.00ZM291.51 1450.00L315.75 1450.00L315.75 1457.14L291.51 1457.14ZM307.90 1450.00L315.75 1450.00L315.75 1477.54L307.90 1477.54ZM291.51 1472.44L315.75 1472.44L315.75 1477.54L291.51 1477.54ZM301.14 1472.44L308.48 1472.44L317.07 1501.00L309.22 1501.00ZM342.39 1450.00L350.24 1450.00L350.24 1501.00L342.39 1501.00ZM367.82 1450.00L375.67 1450.00L375.67 1501.00L367.82 1501.00ZM342.39 1450.00L348.47 1450.00L359.03 1480.60L369.60 1450.00L375.67 1450.00L361.26 1496.15L356.80 1496.15ZM383.78 1450.00L391.63 1450.00L391.63 1501.00L383.78 1501.00ZM383.78 1450.00L404.18 1450.00L404.18 1457.14L383.78 1457.14ZM383.78 1471.42L402.66 1471.42L402.66 1478.82L383.78 1478.82ZM383.78 1493.86L404.18 1493.86L404.18 1501.00L383.78 1501.00ZM422.55 1450.00L431.54 1450.00L441.81 1501.00L432.86 1501.00L427.05 1462.75L421.23 1501.00L412.28 1501.00ZM417.65 1482.89L436.44 1482.89L436.44 1490.04L417.65 1490.04ZM449.91 1470.49L449.91 1452.04L450.07 1451.26L450.51 1450.60L451.16 1450.16L451.94 1450.00L472.04 1450.00L472.82 1450.16L473.48 1450.60L473.92 1451.26L474.07 1452.04L474.07 1463.92L473.92 1464.70L473.48 1465.37L472.82 1465.81L472.04 1465.96L468.25 1465.96L467.47 1465.81L466.81 1465.37L466.37 1464.70L466.22 1463.92L466.22 1457.34L466.19 1457.17L466.02 1457.14L457.96 1457.14L457.80 1457.17L457.76 1457.34L457.76 1465.09L457.80 1465.28L457.92 1465.44L473.40 1479.48L473.90 1480.17L474.07 1481.00L474.07 1498.96L473.92 1499.74L473.48 1500.40L472.82 1500.84L472.04 1501.00L451.94 1501.00L451.16 1500.84L450.51 1500.40L450.07 1499.74L449.91 1498.96L449.91 1486.72L450.07 1485.94L450.51 1485.28L451.16 1484.84L451.94 1484.68L455.74 1484.68L456.51 1484.84L457.17 1485.28L457.61 1485.94L457.76 1486.72L457.76 1493.66L457.80 1493.83L457.96 1493.86L466.02 1493.86L466.19 1493.83L466.22 1493.66L466.22 1485.92L466.18 1485.72L466.06 1485.56L450.61 1472.03L450.09 1471.34ZM482.17 1450.00L490.02 1450.00L490.02 1501.00L482.17 1501.00ZM499.18 1450.00L507.03 1450.00L507.03 1501.00L499.18 1501.00ZM482.17 1493.86L507.03 1493.86L507.03 1501.00L482.17 1501.00ZM515.13 1450.00L522.98 1450.00L522.98 1501.00L515.13 1501.00ZM515.13 1450.00L539.37 1450.00L539.37 1457.14L515.13 1457.14ZM531.52 1450.00L539.37 1450.00L539.37 1477.54L531.52 1477.54ZM515.13 1472.44L539.37 1472.44L539.37 1477.54L515.13 1477.54ZM524.76 1472.44L532.10 1472.44L540.69 1501.00L532.84 1501.00ZM548.79 1450.00L556.64 1450.00L556.64 1501.00L548.79 1501.00ZM548.79 1450.00L569.19 1450.00L569.19 1457.14L548.79 1457.14ZM548.79 1471.42L567.67 1471.42L567.67 1478.82L548.79 1478.82ZM548.79 1493.86L569.19 1493.86L569.19 1501.00L548.79 1501.00ZM577.29 1450.00L585.14 1450.00L585.14 1501.00L577.29 1501.00ZM602.73 1450.00L610.58 1450.00L610.58 1501.00L602.73 1501.00ZM577.29 1450.00L583.37 1450.00L593.94 1480.60L604.50 1450.00L610.58 1450.00L596.17 1496.15L591.71 1496.15ZM618.68 1450.00L626.53 1450.00L626.53 1501.00L618.68 1501.00ZM618.68 1450.00L639.08 1450.00L639.08 1457.14L618.68 1457.14ZM618.68 1471.42L637.56 1471.42L637.56 1478.82L618.68 1478.82ZM618.68 1493.86L639.08 1493.86L639.08 1501.00L618.68 1501.00ZM647.19 1450.00L655.04 1450.00L655.04 1501.00L647.19 1501.00ZM666.72 1450.00L674.57 1450.00L674.57 1501.00L666.72 1501.00ZM647.19 1450.00L655.04 1450.00L666.72 1480.60L674.57 1501.00L666.72 1501.00L655.04 1468.87L647.19 1456.12ZM682.67 1450.00L708.44 1450.00L708.44 1457.14L682.67 1457.14ZM691.63 1450.00L699.48 1450.00L699.48 1501.00L691.63 1501.00ZM716.54 1470.49L716.54 1452.04L716.70 1451.26L717.14 1450.60L717.79 1450.16L718.57 1450.00L738.67 1450.00L739.45 1450.16L740.11 1450.60L740.55 1451.26L740.70 1452.04L740.70 1463.92L740.55 1464.70L740.11 1465.37L739.45 1465.81L738.67 1465.96L734.88 1465.96L734.10 1465.81L733.44 1465.37L733.00 1464.70L732.85 1463.92L732.85 1457.34L732.82 1457.17L732.65 1457.14L724.59 1457.14L724.42 1457.17L724.39 1457.34L724.39 1465.09L724.43 1465.28L724.55 1465.44L740.03 1479.48L740.52 1480.17L740.70 1481.00L740.70 1498.96L740.55 1499.74L740.11 1500.40L739.45 1500.84L738.67 1501.00L718.57 1501.00L717.79 1500.84L717.14 1500.40L716.70 1499.74L716.54 1498.96L716.54 1486.72L716.70 1485.94L717.14 1485.28L717.79 1484.84L718.57 1484.68L722.37 1484.68L723.14 1484.84L723.80 1485.28L724.24 1485.94L724.39 1486.72L724.39 1493.66L724.42 1493.83L724.59 1493.86L732.65 1493.86L732.82 1493.83L732.85 1493.66L732.85 1485.92L732.81 1485.72L732.69 1485.56L717.24 1472.03L716.72 1471.34Z"/>
<path fill="#3a3a3c" d="M2531.00 1450.00L2538.82 1450.00L2538.82 1501.00L2531.00 1501.00ZM2548.32 1450.00L2556.15 1450.00L2556.15 1501.00L2548.32 1501.00ZM2531.00 1471.16L2556.15 1471.16L2556.15 1478.82L2531.00 1478.82ZM2564.22 1498.96L2564.22 1452.04L2564.38 1451.26L2564.82 1450.60L2565.47 1450.16L2566.24 1450.00L2586.98 1450.00L2587.75 1450.16L2588.41 1450.60L2588.84 1451.26L2589.00 1452.04L2589.00 1498.96L2588.84 1499.74L2588.41 1500.40L2587.75 1500.84L2586.98 1501.00L2566.24 1501.00L2565.47 1500.84L2564.82 1500.40L2564.38 1499.74ZM2572.05 1457.34L2572.05 1493.66L2572.08 1493.83L2572.25 1493.86L2580.97 1493.86L2581.14 1493.83L2581.17 1493.66L2581.17 1457.34L2581.14 1457.17L2580.97 1457.14L2572.25 1457.14L2572.08 1457.17ZM2597.07 1450.00L2605.64 1450.00L2608.63 1481.88L2614.04 1450.00L2621.69 1450.00L2626.88 1481.88L2630.78 1450.00L2639.34 1450.00L2631.85 1501.00L2623.29 1501.00L2617.94 1471.62L2613.13 1501.00L2604.78 1501.00ZM2664.58 1450.00L2690.27 1450.00L2690.27 1457.14L2664.58 1457.14ZM2673.51 1450.00L2681.34 1450.00L2681.34 1501.00L2673.51 1501.00ZM2698.34 1498.96L2698.34 1452.04L2698.50 1451.26L2698.93 1450.60L2699.59 1450.16L2700.36 1450.00L2721.10 1450.00L2721.87 1450.16L2722.52 1450.60L2722.96 1451.26L2723.12 1452.04L2723.12 1498.96L2722.96 1499.74L2722.52 1500.40L2721.87 1500.84L2721.10 1501.00L2700.36 1501.00L2699.59 1500.84L2698.93 1500.40L2698.50 1499.74ZM2706.17 1457.34L2706.17 1493.66L2706.20 1493.83L2706.37 1493.86L2715.09 1493.86L2715.26 1493.83L2715.29 1493.66L2715.29 1457.34L2715.26 1457.17L2715.09 1457.14L2706.37 1457.14L2706.20 1457.17ZM2748.35 1450.00L2756.18 1450.00L2756.18 1501.00L2748.35 1501.00ZM2773.70 1450.00L2781.53 1450.00L2781.53 1501.00L2773.70 1501.00ZM2748.35 1450.00L2754.41 1450.00L2764.94 1480.60L2775.47 1450.00L2781.53 1450.00L2767.16 1496.15L2762.72 1496.15ZM2789.60 1450.00L2797.43 1450.00L2797.43 1501.00L2789.60 1501.00ZM2789.60 1450.00L2809.94 1450.00L2809.94 1457.14L2789.60 1457.14ZM2789.60 1471.42L2808.42 1471.42L2808.42 1478.82L2789.60 1478.82ZM2789.60 1493.86L2809.94 1493.86L2809.94 1501.00L2789.60 1501.00ZM2828.25 1450.00L2837.21 1450.00L2847.44 1501.00L2838.53 1501.00L2832.73 1462.75L2826.93 1501.00L2818.01 1501.00ZM2823.36 1482.89L2842.09 1482.89L2842.09 1490.04L2823.36 1490.04ZM2855.52 1470.49L2855.52 1452.04L2855.67 1451.26L2856.11 1450.60L2856.76 1450.16L2857.54 1450.00L2877.58 1450.00L2878.35 1450.16L2879.00 1450.60L2879.44 1451.26L2879.60 1452.04L2879.60 1463.92L2879.44 1464.70L2879.00 1465.37L2878.35 1465.81L2877.58 1465.96L2873.79 1465.96L2873.02 1465.81L2872.36 1465.37L2871.93 1464.70L2871.77 1463.92L2871.77 1457.34L2871.74 1457.17L2871.57 1457.14L2863.54 1457.14L2863.38 1457.17L2863.34 1457.34L2863.34 1465.09L2863.38 1465.28L2863.50 1465.44L2878.93 1479.48L2879.42 1480.17L2879.60 1481.00L2879.60 1498.96L2879.44 1499.74L2879.00 1500.40L2878.35 1500.84L2877.58 1501.00L2857.54 1501.00L2856.76 1500.84L2856.11 1500.40L2855.67 1499.74L2855.52 1498.96L2855.52 1486.72L2855.67 1485.94L2856.11 1485.28L2856.76 1484.84L2857.54 1484.68L2861.32 1484.68L2862.10 1484.84L2862.75 1485.28L2863.19 1485.94L2863.34 1486.72L2863.34 1493.66L2863.38 1493.83L2863.54 1493.86L2871.57 1493.86L2871.74 1493.83L2871.77 1493.66L2871.77 1485.92L2871.73 1485.72L2871.61 1485.56L2856.21 1472.03L2855.70 1471.34ZM2887.67 1450.00L2895.50 1450.00L2895.50 1501.00L2887.67 1501.00ZM2904.62 1450.00L2912.45 1450.00L2912.45 1501.00L2904.62 1501.00ZM2887.67 1493.86L2912.45 1493.86L2912.45 1501.00L2887.67 1501.00ZM2920.52 1450.00L2928.35 1450.00L2928.35 1501.00L2920.52 1501.00ZM2920.52 1450.00L2944.68 1450.00L2944.68 1457.14L2920.52 1457.14ZM2936.85 1450.00L2944.68 1450.00L2944.68 1477.54L2936.85 1477.54ZM2920.52 1472.44L2944.68 1472.44L2944.68 1477.54L2920.52 1477.54ZM2930.11 1472.44L2937.43 1472.44L2945.99 1501.00L2938.17 1501.00ZM2954.07 1450.00L2961.89 1450.00L2961.89 1501.00L2954.07 1501.00ZM2954.07 1450.00L2974.40 1450.00L2974.40 1457.14L2954.07 1457.14ZM2954.07 1471.42L2972.89 1471.42L2972.89 1478.82L2954.07 1478.82ZM2954.07 1493.86L2974.40 1493.86L2974.40 1501.00L2954.07 1501.00Z"/>
<path fill="#3a3a3c" d="M2535.92 1543.36L2535.90 1543.46L2535.90 1565.54L2535.92 1565.64L2536.02 1565.66L2541.49 1565.66L2541.59 1565.64L2541.62 1565.54L2541.62 1560.92L2541.71 1560.44L2541.99 1560.04L2542.40 1559.77L2542.88 1559.68L2545.25 1559.68L2545.74 1559.77L2546.15 1560.04L2546.42 1560.44L2546.52 1560.92L2546.52 1568.76L2546.42 1569.23L2546.15 1569.64L2545.74 1569.91L2545.25 1570.00L2532.26 1570.00L2531.78 1569.91L2531.37 1569.64L2531.10 1569.23L2531.00 1568.76L2531.00 1540.24L2531.10 1539.77L2531.37 1539.36L2531.78 1539.09L2532.26 1539.00L2545.25 1539.00L2545.74 1539.09L2546.15 1539.36L2546.42 1539.77L2546.52 1540.24L2546.52 1548.08L2546.42 1548.56L2546.15 1548.96L2545.74 1549.23L2545.25 1549.32L2542.88 1549.32L2542.40 1549.23L2541.99 1548.96L2541.71 1548.56L2541.62 1548.08L2541.62 1543.46L2541.59 1543.36L2541.49 1543.34L2536.02 1543.34ZM2551.57 1539.00L2556.47 1539.00L2556.47 1570.00L2551.57 1570.00ZM2562.42 1539.00L2567.32 1539.00L2567.32 1570.00L2562.42 1570.00ZM2551.57 1551.87L2567.32 1551.87L2567.32 1556.52L2551.57 1556.52ZM2572.38 1539.00L2577.28 1539.00L2577.28 1570.00L2572.38 1570.00ZM2572.38 1539.00L2585.12 1539.00L2585.12 1543.34L2572.38 1543.34ZM2572.38 1552.02L2584.17 1552.02L2584.17 1556.52L2572.38 1556.52ZM2572.38 1565.66L2585.12 1565.66L2585.12 1570.00L2572.38 1570.00ZM2590.18 1551.46L2590.18 1540.24L2590.27 1539.77L2590.55 1539.36L2590.96 1539.09L2591.44 1539.00L2603.99 1539.00L2604.48 1539.09L2604.89 1539.36L2605.16 1539.77L2605.26 1540.24L2605.26 1547.46L2605.16 1547.94L2604.89 1548.34L2604.48 1548.61L2603.99 1548.70L2601.62 1548.70L2601.14 1548.61L2600.73 1548.34L2600.45 1547.94L2600.36 1547.46L2600.36 1543.46L2600.34 1543.36L2600.23 1543.34L2595.20 1543.34L2595.10 1543.36L2595.08 1543.46L2595.08 1548.17L2595.10 1548.29L2595.17 1548.39L2604.84 1556.92L2605.15 1557.34L2605.26 1557.84L2605.26 1568.76L2605.16 1569.23L2604.89 1569.64L2604.48 1569.91L2603.99 1570.00L2591.44 1570.00L2590.96 1569.91L2590.55 1569.64L2590.27 1569.23L2590.18 1568.76L2590.18 1561.32L2590.27 1560.85L2590.55 1560.44L2590.96 1560.17L2591.44 1560.08L2593.81 1560.08L2594.30 1560.17L2594.71 1560.44L2594.98 1560.85L2595.08 1561.32L2595.08 1565.54L2595.10 1565.64L2595.20 1565.66L2600.23 1565.66L2600.34 1565.64L2600.36 1565.54L2600.36 1560.83L2600.33 1560.71L2600.25 1560.61L2590.61 1552.39L2590.29 1551.97ZM2610.31 1539.00L2626.40 1539.00L2626.40 1543.34L2610.31 1543.34ZM2615.91 1539.00L2620.81 1539.00L2620.81 1570.00L2615.91 1570.00Z"/>
<path fill="#3a3a3c" d="M190.30 1952.77L190.30 1906.13L190.45 1905.35L190.88 1904.69L191.53 1904.25L192.29 1904.10L214.66 1904.10L215.42 1904.25L216.06 1904.69L216.50 1905.35L216.65 1906.13L216.65 1917.28L216.50 1918.06L216.06 1918.72L215.42 1919.16L214.66 1919.31L210.93 1919.31L210.17 1919.16L209.52 1918.72L209.09 1918.06L208.94 1917.28L208.94 1911.40L208.91 1911.23L208.75 1911.20L198.20 1911.20L198.04 1911.23L198.01 1911.40L198.01 1947.50L198.04 1947.67L198.20 1947.70L208.75 1947.70L208.91 1947.67L208.94 1947.50L208.94 1934.47L208.91 1934.30L208.75 1934.27L205.46 1934.27L204.70 1934.11L204.06 1933.67L203.62 1933.01L203.47 1932.24L203.47 1929.96L203.62 1929.18L204.06 1928.52L204.70 1928.08L205.46 1927.93L214.66 1927.93L215.42 1928.08L216.06 1928.52L216.50 1929.18L216.65 1929.96L216.65 1952.77L216.50 1953.55L216.06 1954.21L215.42 1954.65L214.66 1954.80L192.29 1954.80L191.53 1954.65L190.88 1954.21L190.45 1953.55ZM234.68 1904.10L243.51 1904.10L253.58 1954.80L244.80 1954.80L239.09 1916.77L233.38 1954.80L224.60 1954.80ZM229.87 1936.80L248.31 1936.80L248.31 1943.90L229.87 1943.90ZM261.54 1904.10L269.24 1904.10L269.24 1954.80L261.54 1954.80ZM261.54 1904.10L285.33 1904.10L285.33 1911.20L261.54 1911.20ZM277.62 1904.10L285.33 1904.10L285.33 1931.48L277.62 1931.48ZM261.54 1926.41L285.33 1926.41L285.33 1931.48L261.54 1931.48ZM270.98 1926.41L278.19 1926.41L286.62 1954.80L278.91 1954.80ZM294.57 1904.10L302.28 1904.10L302.28 1954.80L294.57 1954.80ZM319.54 1904.10L327.24 1904.10L327.24 1954.80L319.54 1954.80ZM294.57 1904.10L300.54 1904.10L310.91 1934.52L321.28 1904.10L327.24 1904.10L313.09 1949.98L308.72 1949.98ZM335.19 1904.10L342.90 1904.10L342.90 1954.80L335.19 1954.80ZM335.19 1904.10L355.22 1904.10L355.22 1911.20L335.19 1911.20ZM335.19 1925.39L353.73 1925.39L353.73 1932.75L335.19 1932.75ZM335.19 1947.70L355.22 1947.70L355.22 1954.80L335.19 1954.80ZM363.17 1904.10L370.88 1904.10L370.88 1954.80L363.17 1954.80ZM382.34 1904.10L390.05 1904.10L390.05 1954.80L382.34 1954.80ZM363.17 1904.10L370.88 1904.10L382.34 1934.52L390.05 1954.80L382.34 1954.80L370.88 1922.86L363.17 1910.18ZM398.00 1904.10L423.29 1904.10L423.29 1911.20L398.00 1911.20ZM406.79 1904.10L414.50 1904.10L414.50 1954.80L406.79 1954.80ZM448.15 1904.10L455.85 1904.10L455.85 1954.80L448.15 1954.80ZM473.11 1904.10L480.82 1904.10L480.82 1954.80L473.11 1954.80ZM448.15 1904.10L454.11 1904.10L464.48 1934.52L474.85 1904.10L480.82 1904.10L466.67 1949.98L462.30 1949.98ZM488.77 1904.10L496.48 1904.10L496.48 1954.80L488.77 1954.80ZM488.77 1904.10L508.79 1904.10L508.79 1911.20L488.77 1911.20ZM488.77 1925.39L507.30 1925.39L507.30 1932.75L488.77 1932.75ZM488.77 1947.70L508.79 1947.70L508.79 1954.80L488.77 1954.80ZM526.82 1904.10L535.65 1904.10L545.73 1954.80L536.95 1954.80L531.24 1916.77L525.53 1954.80L516.75 1954.80ZM522.02 1936.80L540.46 1936.80L540.46 1943.90L522.02 1943.90ZM553.68 1924.47L553.68 1906.13L553.84 1905.35L554.27 1904.69L554.91 1904.25L555.67 1904.10L575.41 1904.10L576.17 1904.25L576.81 1904.69L577.24 1905.35L577.40 1906.13L577.40 1917.94L577.24 1918.72L576.81 1919.38L576.17 1919.81L575.41 1919.97L571.68 1919.97L570.92 1919.81L570.27 1919.38L569.84 1918.72L569.69 1917.94L569.69 1911.40L569.66 1911.23L569.49 1911.20L561.58 1911.20L561.42 1911.23L561.39 1911.40L561.39 1919.10L561.43 1919.29L561.54 1919.45L576.74 1933.41L577.22 1934.09L577.40 1934.92L577.40 1952.77L577.24 1953.55L576.81 1954.21L576.17 1954.65L575.41 1954.80L555.67 1954.80L554.91 1954.65L554.27 1954.21L553.84 1953.55L553.68 1952.77L553.68 1940.60L553.84 1939.83L554.27 1939.17L554.91 1938.73L555.67 1938.58L559.40 1938.58L560.16 1938.73L560.81 1939.17L561.24 1939.83L561.39 1940.60L561.39 1947.50L561.42 1947.67L561.58 1947.70L569.49 1947.70L569.66 1947.67L569.69 1947.50L569.69 1939.81L569.65 1939.61L569.53 1939.45L554.37 1926.00L553.86 1925.31ZM585.35 1904.10L593.05 1904.10L593.05 1954.80L585.35 1954.80ZM602.04 1904.10L609.75 1904.10L609.75 1954.80L602.04 1954.80ZM585.35 1947.70L609.75 1947.70L609.75 1954.80L585.35 1954.80ZM617.70 1904.10L625.41 1904.10L625.41 1954.80L617.70 1954.80ZM617.70 1904.10L641.49 1904.10L641.49 1911.20L617.70 1911.20ZM633.78 1904.10L641.49 1904.10L641.49 1931.48L633.78 1931.48ZM617.70 1926.41L641.49 1926.41L641.49 1931.48L617.70 1931.48ZM627.15 1926.41L634.35 1926.41L642.78 1954.80L635.08 1954.80ZM650.74 1904.10L658.44 1904.10L658.44 1954.80L650.74 1954.80ZM650.74 1904.10L670.76 1904.10L670.76 1911.20L650.74 1911.20ZM650.74 1925.39L669.27 1925.39L669.27 1932.75L650.74 1932.75ZM650.74 1947.70L670.76 1947.70L670.76 1954.80L650.74 1954.80ZM678.71 1904.10L686.42 1904.10L686.42 1954.80L678.71 1954.80ZM703.68 1904.10L711.38 1904.10L711.38 1954.80L703.68 1954.80ZM678.71 1904.10L684.68 1904.10L695.05 1934.52L705.42 1904.10L711.38 1904.10L697.24 1949.98L692.86 1949.98ZM719.34 1904.10L727.04 1904.10L727.04 1954.80L719.34 1954.80ZM719.34 1904.10L739.36 1904.10L739.36 1911.20L719.34 1911.20ZM719.34 1925.39L737.87 1925.39L737.87 1932.75L719.34 1932.75ZM719.34 1947.70L739.36 1947.70L739.36 1954.80L719.34 1954.80ZM747.31 1904.10L755.02 1904.10L755.02 1954.80L747.31 1954.80ZM766.48 1904.10L774.19 1904.10L774.19 1954.80L766.48 1954.80ZM747.31 1904.10L755.02 1904.10L766.48 1934.52L774.19 1954.80L766.48 1954.80L755.02 1922.86L747.31 1910.18ZM782.14 1904.10L807.43 1904.10L807.43 1911.20L782.14 1911.20ZM790.94 1904.10L798.64 1904.10L798.64 1954.80L790.94 1954.80ZM815.39 1924.47L815.39 1906.13L815.54 1905.35L815.97 1904.69L816.62 1904.25L817.38 1904.10L837.11 1904.10L837.87 1904.25L838.52 1904.69L838.95 1905.35L839.10 1906.13L839.10 1917.94L838.95 1918.72L838.52 1919.38L837.87 1919.81L837.11 1919.97L833.38 1919.97L832.62 1919.81L831.98 1919.38L831.55 1918.72L831.39 1917.94L831.39 1911.40L831.36 1911.23L831.20 1911.20L823.29 1911.20L823.13 1911.23L823.09 1911.40L823.09 1919.10L823.13 1919.29L823.25 1919.45L838.44 1933.41L838.93 1934.09L839.10 1934.92L839.10 1952.77L838.95 1953.55L838.52 1954.21L837.87 1954.65L837.11 1954.80L817.38 1954.80L816.62 1954.65L815.97 1954.21L815.54 1953.55L815.39 1952.77L815.39 1940.60L815.54 1939.83L815.97 1939.17L816.62 1938.73L817.38 1938.58L821.10 1938.58L821.87 1938.73L822.51 1939.17L822.94 1939.83L823.09 1940.60L823.09 1947.50L823.13 1947.67L823.29 1947.70L831.20 1947.70L831.36 1947.67L831.39 1947.50L831.39 1939.81L831.35 1939.61L831.23 1939.45L816.07 1926.00L815.57 1925.31Z"/>
<rect x="187.5" y="1540.0" width="2250.5" height="99.5" fill="#f2f2f2"/>
<path fill="#050708" d="M211.25 1590.57L211.25 1576.10L211.38 1575.49L211.75 1574.97L212.31 1574.62L212.96 1574.50L230.34 1574.50L230.99 1574.62L231.55 1574.97L231.92 1575.49L232.05 1576.10L232.05 1585.42L231.92 1586.03L231.55 1586.55L230.99 1586.90L230.34 1587.02L226.91 1587.02L226.26 1586.90L225.70 1586.55L225.33 1586.03L225.20 1585.42L225.20 1580.86L225.17 1580.73L225.03 1580.70L218.27 1580.70L218.13 1580.73L218.10 1580.86L218.10 1586.33L218.13 1586.49L218.23 1586.61L231.48 1597.62L231.90 1598.16L232.05 1598.82L232.05 1612.90L231.92 1613.51L231.55 1614.03L230.99 1614.38L230.34 1614.50L212.96 1614.50L212.31 1614.38L211.75 1614.03L211.38 1613.51L211.25 1612.90L211.25 1603.30L211.38 1602.69L211.75 1602.17L212.31 1601.82L212.96 1601.70L216.39 1601.70L217.04 1601.82L217.60 1602.17L217.97 1602.69L218.10 1603.30L218.10 1608.14L218.13 1608.27L218.27 1608.30L225.03 1608.30L225.17 1608.27L225.20 1608.14L225.20 1602.67L225.17 1602.52L225.06 1602.39L211.85 1591.78L211.41 1591.23ZM235.05 1574.50L241.89 1574.50L241.89 1614.50L235.05 1614.50ZM245.53 1574.50L264.39 1574.50L264.39 1580.70L245.53 1580.70ZM255.31 1580.30L264.39 1580.30L253.55 1608.70L244.89 1608.70ZM244.89 1608.30L264.39 1608.30L264.39 1614.50L244.89 1614.50ZM267.39 1574.50L274.24 1574.50L274.24 1614.50L267.39 1614.50ZM267.39 1574.50L284.95 1574.50L284.95 1580.70L267.39 1580.70ZM267.39 1591.30L283.67 1591.30L283.67 1597.70L267.39 1597.70ZM267.39 1608.30L284.95 1608.30L284.95 1614.50L267.39 1614.50ZM287.95 1590.57L287.95 1576.10L288.08 1575.49L288.45 1574.97L289.01 1574.62L289.66 1574.50L307.04 1574.50L307.69 1574.62L308.25 1574.97L308.62 1575.49L308.75 1576.10L308.75 1585.42L308.62 1586.03L308.25 1586.55L307.69 1586.90L307.04 1587.02L303.61 1587.02L302.96 1586.90L302.40 1586.55L302.03 1586.03L301.90 1585.42L301.90 1580.86L301.87 1580.73L301.73 1580.70L294.97 1580.70L294.83 1580.73L294.80 1580.86L294.80 1586.33L294.83 1586.49L294.93 1586.61L308.18 1597.62L308.60 1598.16L308.75 1598.82L308.75 1612.90L308.62 1613.51L308.25 1614.03L307.69 1614.38L307.04 1614.50L289.66 1614.50L289.01 1614.38L288.45 1614.03L288.08 1613.51L287.95 1612.90L287.95 1603.30L288.08 1602.69L288.45 1602.17L289.01 1601.82L289.66 1601.70L293.09 1601.70L293.74 1601.82L294.30 1602.17L294.67 1602.69L294.80 1603.30L294.80 1608.14L294.83 1608.27L294.97 1608.30L301.73 1608.30L301.87 1608.27L301.90 1608.14L301.90 1602.67L301.87 1602.52L301.76 1602.39L288.55 1591.78L288.11 1591.23Z"/>
<path fill="#050708" d="M570.85 1575.00L577.77 1575.00L592.18 1614.50L585.27 1614.50ZM585.27 1575.00L592.18 1575.00L577.77 1614.50L570.85 1614.50ZM594.95 1590.86L594.95 1576.58L595.07 1575.98L595.41 1575.46L595.92 1575.12L596.53 1575.00L612.57 1575.00L613.17 1575.12L613.68 1575.46L614.03 1575.98L614.15 1576.58L614.15 1585.78L614.03 1586.39L613.68 1586.90L613.17 1587.24L612.57 1587.36L609.41 1587.36L608.80 1587.24L608.29 1586.90L607.95 1586.39L607.83 1585.78L607.83 1581.28L607.80 1581.15L607.67 1581.12L601.42 1581.12L601.29 1581.15L601.27 1581.28L601.27 1586.68L601.30 1586.84L601.39 1586.96L613.62 1597.83L614.01 1598.37L614.15 1599.01L614.15 1612.92L614.03 1613.52L613.68 1614.04L613.17 1614.38L612.57 1614.50L596.53 1614.50L595.92 1614.38L595.41 1614.04L595.07 1613.52L594.95 1612.92L594.95 1603.44L595.07 1602.84L595.41 1602.32L595.92 1601.98L596.53 1601.86L599.69 1601.86L600.29 1601.98L600.81 1602.32L601.15 1602.84L601.27 1603.44L601.27 1608.22L601.29 1608.35L601.42 1608.38L607.67 1608.38L607.80 1608.35L607.83 1608.22L607.83 1602.82L607.79 1602.67L607.70 1602.54L595.50 1592.06L595.09 1591.52Z"/>
<path fill="#050708" d="M778.96 1590.86L778.96 1576.58L779.08 1575.98L779.42 1575.46L779.94 1575.12L780.54 1575.00L796.58 1575.00L797.18 1575.12L797.70 1575.46L798.04 1575.98L798.16 1576.58L798.16 1585.78L798.04 1586.39L797.70 1586.90L797.18 1587.24L796.58 1587.36L793.42 1587.36L792.81 1587.24L792.30 1586.90L791.96 1586.39L791.84 1585.78L791.84 1581.28L791.81 1581.15L791.68 1581.12L785.44 1581.12L785.31 1581.15L785.28 1581.28L785.28 1586.68L785.31 1586.84L785.41 1586.96L797.63 1597.83L798.02 1598.37L798.16 1599.01L798.16 1612.92L798.04 1613.52L797.70 1614.04L797.18 1614.38L796.58 1614.50L780.54 1614.50L779.94 1614.38L779.42 1614.04L779.08 1613.52L778.96 1612.92L778.96 1603.44L779.08 1602.84L779.42 1602.32L779.94 1601.98L780.54 1601.86L783.70 1601.86L784.31 1601.98L784.82 1602.32L785.16 1602.84L785.28 1603.44L785.28 1608.22L785.31 1608.35L785.44 1608.38L791.68 1608.38L791.81 1608.35L791.84 1608.22L791.84 1602.82L791.80 1602.67L791.71 1602.54L779.51 1592.06L779.11 1591.52Z"/>
<path fill="#050708" d="M971.40 1575.00L977.72 1575.00L977.72 1614.50L971.40 1614.50ZM991.52 1575.00L997.84 1575.00L997.84 1614.50L991.52 1614.50ZM971.40 1575.00L976.14 1575.00L984.62 1598.70L993.10 1575.00L997.84 1575.00L986.36 1610.75L982.88 1610.75Z"/>
<path fill="#050708" d="M1172.57 1575.00L1178.89 1575.00L1178.89 1614.50L1172.57 1614.50ZM1172.57 1608.38L1188.79 1608.38L1188.79 1614.50L1172.57 1614.50Z"/>
<path fill="#050708" d="M1356.59 1575.00L1363.50 1575.00L1377.92 1614.50L1371.00 1614.50ZM1371.00 1575.00L1377.92 1575.00L1363.50 1614.50L1356.59 1614.50ZM1380.68 1575.00L1387.00 1575.00L1387.00 1614.50L1380.68 1614.50ZM1380.68 1608.38L1396.89 1608.38L1396.89 1614.50L1380.68 1614.50Z"/>
<path fill="#050708" d="M1541.67 1585.86L1541.67 1576.58L1541.79 1575.98L1542.13 1575.46L1542.64 1575.12L1543.25 1575.00L1559.28 1575.00L1559.89 1575.12L1560.40 1575.46L1560.74 1575.98L1560.86 1576.58L1560.86 1587.03L1560.66 1587.80L1549.25 1608.23L1549.21 1608.35L1549.33 1608.38L1559.28 1608.38L1559.89 1608.50L1560.40 1608.84L1560.74 1609.35L1560.86 1609.96L1560.86 1612.92L1560.74 1613.52L1560.40 1614.04L1559.89 1614.38L1559.28 1614.50L1543.25 1614.50L1542.64 1614.38L1542.13 1614.04L1541.79 1613.52L1541.67 1612.92L1541.67 1609.02L1541.90 1608.20L1554.43 1587.63L1554.54 1587.22L1554.54 1581.28L1554.52 1581.15L1554.39 1581.12L1548.14 1581.12L1548.01 1581.15L1547.99 1581.28L1547.99 1585.86L1547.87 1586.47L1547.52 1586.98L1547.01 1587.32L1546.41 1587.44L1543.25 1587.44L1542.64 1587.32L1542.13 1586.98L1541.79 1586.47ZM1563.63 1575.00L1570.54 1575.00L1584.96 1614.50L1578.05 1614.50ZM1578.05 1575.00L1584.96 1575.00L1570.54 1614.50L1563.63 1614.50ZM1587.72 1575.00L1594.04 1575.00L1594.04 1614.50L1587.72 1614.50ZM1587.72 1608.38L1603.93 1608.38L1603.93 1614.50L1587.72 1614.50Z"/>
<path fill="#050708" d="M1737.73 1585.66L1737.73 1576.58L1737.85 1575.98L1738.19 1575.46L1738.70 1575.12L1739.31 1575.00L1755.34 1575.00L1755.95 1575.12L1756.46 1575.46L1756.80 1575.98L1756.92 1576.58L1756.92 1587.89L1756.79 1588.53L1756.40 1589.06L1751.12 1593.85L1751.04 1593.96L1751.12 1594.07L1756.42 1599.02L1756.79 1599.55L1756.92 1600.18L1756.92 1612.92L1756.80 1613.52L1756.46 1614.04L1755.95 1614.38L1755.34 1614.50L1739.31 1614.50L1738.70 1614.38L1738.19 1614.04L1737.85 1613.52L1737.73 1612.92L1737.73 1603.44L1737.85 1602.84L1738.19 1602.32L1738.70 1601.98L1739.31 1601.86L1742.47 1601.86L1743.07 1601.98L1743.58 1602.32L1743.93 1602.84L1744.05 1603.44L1744.05 1608.22L1744.07 1608.35L1744.20 1608.38L1750.45 1608.38L1750.58 1608.35L1750.60 1608.22L1750.60 1599.66L1750.57 1599.51L1750.47 1599.38L1745.41 1595.20L1745.05 1594.77L1744.86 1594.25L1744.86 1593.69L1745.06 1593.17L1745.42 1592.75L1750.46 1588.70L1750.57 1588.57L1750.60 1588.41L1750.60 1581.28L1750.58 1581.15L1750.45 1581.12L1744.20 1581.12L1744.07 1581.15L1744.05 1581.28L1744.05 1585.66L1743.93 1586.27L1743.58 1586.78L1743.07 1587.12L1742.47 1587.24L1739.31 1587.24L1738.70 1587.12L1738.19 1586.78L1737.85 1586.27ZM1759.69 1575.00L1766.60 1575.00L1781.02 1614.50L1774.11 1614.50ZM1774.11 1575.00L1781.02 1575.00L1766.60 1614.50L1759.69 1614.50ZM1783.78 1575.00L1790.10 1575.00L1790.10 1614.50L1783.78 1614.50ZM1783.78 1608.38L1799.99 1608.38L1799.99 1614.50L1783.78 1614.50Z"/>
<path fill="#050708" d="M1941.00 1575.00L1948.11 1575.00L1937.76 1600.79L1937.76 1607.39L1931.44 1607.39L1931.44 1603.01ZM1931.44 1600.79L1955.33 1600.79L1955.33 1608.30L1931.44 1608.30ZM1944.96 1589.73L1951.28 1589.73L1951.28 1614.50L1944.96 1614.50ZM1958.09 1575.00L1965.01 1575.00L1979.42 1614.50L1972.51 1614.50ZM1972.51 1575.00L1979.42 1575.00L1965.01 1614.50L1958.09 1614.50ZM1982.19 1575.00L1988.51 1575.00L1988.51 1614.50L1982.19 1614.50ZM1982.19 1608.38L1998.40 1608.38L1998.40 1614.50L1982.19 1614.50Z"/>
<path fill="#050708" d="M2128.57 1594.75L2128.57 1576.58L2128.69 1575.98L2129.03 1575.46L2129.54 1575.12L2130.15 1575.00L2148.74 1575.00L2149.35 1575.12L2149.86 1575.46L2150.20 1575.98L2150.32 1576.58L2150.32 1579.54L2150.20 1580.15L2149.86 1580.66L2149.35 1581.00L2148.74 1581.12L2135.04 1581.12L2134.91 1581.15L2134.89 1581.28L2134.89 1588.67L2134.91 1588.80L2135.04 1588.83L2148.74 1588.83L2149.35 1588.95L2149.86 1589.29L2150.20 1589.80L2150.32 1590.40L2150.32 1612.92L2150.20 1613.52L2149.86 1614.04L2149.35 1614.38L2148.74 1614.50L2130.15 1614.50L2129.54 1614.38L2129.03 1614.04L2128.69 1613.52L2128.57 1612.92L2128.57 1602.26L2128.69 1601.65L2129.03 1601.14L2129.54 1600.80L2130.15 1600.67L2133.31 1600.67L2133.91 1600.80L2134.42 1601.14L2134.77 1601.65L2134.89 1602.26L2134.89 1608.22L2134.91 1608.35L2135.04 1608.38L2143.85 1608.38L2143.98 1608.35L2144.00 1608.22L2144.00 1596.49L2143.98 1596.36L2143.85 1596.33L2130.15 1596.33L2129.54 1596.21L2129.03 1595.87L2128.69 1595.35ZM2153.09 1575.00L2160.00 1575.00L2174.42 1614.50L2167.51 1614.50ZM2167.51 1575.00L2174.42 1575.00L2160.00 1614.50L2153.09 1614.50ZM2177.18 1575.00L2183.50 1575.00L2183.50 1614.50L2177.18 1614.50ZM2177.18 1608.38L2193.39 1608.38L2193.39 1614.50L2177.18 1614.50Z"/>
<path fill="#050708" d="M2324.63 1612.92L2324.63 1576.58L2324.75 1575.98L2325.09 1575.46L2325.60 1575.12L2326.21 1575.00L2344.80 1575.00L2345.41 1575.12L2345.92 1575.46L2346.26 1575.98L2346.38 1576.58L2346.38 1583.30L2346.26 1583.90L2345.92 1584.41L2345.41 1584.75L2344.80 1584.88L2341.64 1584.88L2341.04 1584.75L2340.53 1584.41L2340.18 1583.90L2340.06 1583.30L2340.06 1581.28L2340.04 1581.15L2339.91 1581.12L2331.10 1581.12L2330.97 1581.15L2330.95 1581.28L2330.95 1592.22L2330.97 1592.35L2331.10 1592.38L2344.80 1592.38L2345.41 1592.50L2345.92 1592.84L2346.26 1593.36L2346.38 1593.96L2346.38 1612.92L2346.26 1613.52L2345.92 1614.04L2345.41 1614.38L2344.80 1614.50L2326.21 1614.50L2325.60 1614.38L2325.09 1614.04L2324.75 1613.52ZM2330.95 1599.05L2330.95 1608.22L2330.97 1608.35L2331.10 1608.38L2339.91 1608.38L2340.04 1608.35L2340.06 1608.22L2340.06 1599.05L2340.04 1598.92L2339.91 1598.90L2331.10 1598.90L2330.97 1598.92ZM2349.15 1575.00L2356.06 1575.00L2370.48 1614.50L2363.57 1614.50ZM2363.57 1575.00L2370.48 1575.00L2356.06 1614.50L2349.15 1614.50ZM2373.24 1575.00L2379.56 1575.00L2379.56 1614.50L2373.24 1614.50ZM2373.24 1608.38L2389.45 1608.38L2389.45 1614.50L2373.24 1614.50Z"/>
<rect x="187.5" y="1654.5" width="2250.5" height="99.5" fill="#e6e7e8"/>
<path fill="#58595b" d="M211.50 1690.00L217.51 1690.00L222.48 1705.96L227.46 1690.00L233.47 1690.00L225.51 1712.04L225.51 1728.00L219.46 1728.00L219.46 1712.04ZM238.50 1726.48L238.50 1691.52L238.62 1690.94L238.96 1690.45L239.46 1690.12L240.05 1690.00L255.79 1690.00L256.38 1690.12L256.88 1690.45L257.22 1690.94L257.34 1691.52L257.34 1726.48L257.22 1727.06L256.88 1727.55L256.38 1727.88L255.79 1728.00L240.05 1728.00L239.46 1727.88L238.96 1727.55L238.62 1727.06ZM244.32 1695.47L244.32 1722.53L244.34 1722.66L244.47 1722.68L251.37 1722.68L251.50 1722.66L251.53 1722.53L251.53 1695.47L251.50 1695.34L251.37 1695.32L244.47 1695.32L244.34 1695.34ZM262.38 1690.00L268.19 1690.00L268.19 1728.00L262.38 1728.00ZM275.40 1690.00L281.21 1690.00L281.21 1728.00L275.40 1728.00ZM262.38 1722.68L281.21 1722.68L281.21 1728.00L262.38 1728.00ZM286.25 1690.00L292.06 1690.00L292.06 1728.00L286.25 1728.00ZM286.25 1690.00L304.60 1690.00L304.60 1695.32L286.25 1695.32ZM298.79 1690.00L304.60 1690.00L304.60 1710.52L298.79 1710.52ZM286.25 1706.72L304.60 1706.72L304.60 1710.52L286.25 1710.52ZM293.41 1706.72L299.03 1706.72L305.61 1728.00L299.80 1728.00ZM326.94 1695.34L326.92 1695.47L326.92 1722.53L326.94 1722.66L327.07 1722.68L333.98 1722.68L334.11 1722.66L334.13 1722.53L334.13 1716.87L334.25 1716.28L334.59 1715.79L335.09 1715.46L335.68 1715.35L338.39 1715.35L338.99 1715.46L339.49 1715.79L339.82 1716.28L339.94 1716.87L339.94 1726.48L339.82 1727.06L339.49 1727.55L338.99 1727.88L338.39 1728.00L322.66 1728.00L322.06 1727.88L321.56 1727.55L321.23 1727.06L321.11 1726.48L321.11 1691.52L321.23 1690.94L321.56 1690.45L322.06 1690.12L322.66 1690.00L338.39 1690.00L338.99 1690.12L339.49 1690.45L339.82 1690.94L339.94 1691.52L339.94 1701.13L339.82 1701.72L339.49 1702.21L338.99 1702.54L338.39 1702.65L335.68 1702.65L335.09 1702.54L334.59 1702.21L334.25 1701.72L334.13 1701.13L334.13 1695.47L334.11 1695.34L333.98 1695.32L327.07 1695.32ZM344.98 1690.00L350.79 1690.00L350.79 1728.00L344.98 1728.00ZM358.29 1690.00L364.10 1690.00L364.10 1728.00L358.29 1728.00ZM344.98 1705.77L364.10 1705.77L364.10 1711.47L344.98 1711.47ZM369.14 1690.00L374.95 1690.00L374.95 1728.00L369.14 1728.00ZM369.14 1690.00L384.59 1690.00L384.59 1695.32L369.14 1695.32ZM369.14 1705.96L383.43 1705.96L383.43 1711.47L369.14 1711.47ZM369.14 1722.68L384.59 1722.68L384.59 1728.00L369.14 1728.00ZM389.63 1705.27L389.63 1691.52L389.75 1690.94L390.08 1690.45L390.59 1690.12L391.18 1690.00L406.39 1690.00L406.98 1690.12L407.48 1690.45L407.82 1690.94L407.94 1691.52L407.94 1700.37L407.82 1700.96L407.48 1701.45L406.98 1701.78L406.39 1701.89L403.68 1701.89L403.08 1701.78L402.58 1701.45L402.24 1700.96L402.13 1700.37L402.13 1695.47L402.10 1695.34L401.97 1695.32L395.59 1695.32L395.47 1695.34L395.44 1695.47L395.44 1701.24L395.47 1701.39L395.56 1701.51L407.42 1711.97L407.80 1712.48L407.94 1713.10L407.94 1726.48L407.82 1727.06L407.48 1727.55L406.98 1727.88L406.39 1728.00L391.18 1728.00L390.59 1727.88L390.08 1727.55L389.75 1727.06L389.63 1726.48L389.63 1717.36L389.75 1716.78L390.08 1716.29L390.59 1715.96L391.18 1715.84L393.89 1715.84L394.49 1715.96L394.99 1716.29L395.32 1716.78L395.44 1717.36L395.44 1722.53L395.47 1722.66L395.59 1722.68L401.97 1722.68L402.10 1722.66L402.13 1722.53L402.13 1716.76L402.09 1716.61L402.00 1716.49L390.16 1706.41L389.77 1705.90ZM412.97 1690.00L432.50 1690.00L432.50 1695.32L412.97 1695.32ZM419.83 1690.00L425.64 1690.00L425.64 1728.00L419.83 1728.00Z"/>
<text x="592.5" y="1729.5" class="num" style="stroke:#e6e7e8">32-33</text>
<text x="788.6" y="1729.5" class="num" style="stroke:#e6e7e8">34-36</text>
<text x="984.6" y="1729.5" class="num" style="stroke:#e6e7e8">38-40</text>
<text x="1180.7" y="1729.5" class="num" style="stroke:#e6e7e8">42-44</text>
<text x="1376.7" y="1729.5" class="num" style="stroke:#e6e7e8">46-48</text>
<text x="1572.8" y="1729.5" class="num" style="stroke:#e6e7e8">50-52</text>
<text x="1768.9" y="1729.5" class="num" style="stroke:#e6e7e8">54-58</text>
<text x="1964.9" y="1729.5" class="num" style="stroke:#e6e7e8">60-62</text>
<text x="2161.0" y="1729.5" class="num" style="stroke:#e6e7e8">64-66</text>
<text x="2357.0" y="1729.5" class="num" style="stroke:#e6e7e8">68-70</text>
<rect x="187.5" y="1994.2" width="2250.5" height="99.5" fill="#f2f2f2"/>
<path fill="#050708" d="M211.25 2044.82L211.25 2030.35L211.38 2029.74L211.75 2029.22L212.31 2028.87L212.96 2028.75L230.34 2028.75L230.99 2028.87L231.55 2029.22L231.92 2029.74L232.05 2030.35L232.05 2039.67L231.92 2040.28L231.55 2040.80L230.99 2041.15L230.34 2041.27L226.91 2041.27L226.26 2041.15L225.70 2040.80L225.33 2040.28L225.20 2039.67L225.20 2035.11L225.17 2034.98L225.03 2034.95L218.27 2034.95L218.13 2034.98L218.10 2035.11L218.10 2040.58L218.13 2040.74L218.23 2040.86L231.48 2051.87L231.90 2052.41L232.05 2053.07L232.05 2067.15L231.92 2067.76L231.55 2068.28L230.99 2068.63L230.34 2068.75L212.96 2068.75L212.31 2068.63L211.75 2068.28L211.38 2067.76L211.25 2067.15L211.25 2057.55L211.38 2056.94L211.75 2056.42L212.31 2056.07L212.96 2055.95L216.39 2055.95L217.04 2056.07L217.60 2056.42L217.97 2056.94L218.10 2057.55L218.10 2062.39L218.13 2062.52L218.27 2062.55L225.03 2062.55L225.17 2062.52L225.20 2062.39L225.20 2056.92L225.17 2056.77L225.06 2056.64L211.85 2046.03L211.41 2045.48ZM235.05 2028.75L241.89 2028.75L241.89 2068.75L235.05 2068.75ZM245.53 2028.75L264.39 2028.75L264.39 2034.95L245.53 2034.95ZM255.31 2034.55L264.39 2034.55L253.55 2062.95L244.89 2062.95ZM244.89 2062.55L264.39 2062.55L264.39 2068.75L244.89 2068.75ZM267.39 2028.75L274.24 2028.75L274.24 2068.75L267.39 2068.75ZM267.39 2028.75L284.95 2028.75L284.95 2034.95L267.39 2034.95ZM267.39 2045.55L283.67 2045.55L283.67 2051.95L267.39 2051.95ZM267.39 2062.55L284.95 2062.55L284.95 2068.75L267.39 2068.75ZM287.95 2044.82L287.95 2030.35L288.08 2029.74L288.45 2029.22L289.01 2028.87L289.66 2028.75L307.04 2028.75L307.69 2028.87L308.25 2029.22L308.62 2029.74L308.75 2030.35L308.75 2039.67L308.62 2040.28L308.25 2040.80L307.69 2041.15L307.04 2041.27L303.61 2041.27L302.96 2041.15L302.40 2040.80L302.03 2040.28L301.90 2039.67L301.90 2035.11L301.87 2034.98L301.73 2034.95L294.97 2034.95L294.83 2034.98L294.80 2035.11L294.80 2040.58L294.83 2040.74L294.93 2040.86L308.18 2051.87L308.60 2052.41L308.75 2053.07L308.75 2067.15L308.62 2067.76L308.25 2068.28L307.69 2068.63L307.04 2068.75L289.66 2068.75L289.01 2068.63L288.45 2068.28L288.08 2067.76L287.95 2067.15L287.95 2057.55L288.08 2056.94L288.45 2056.42L289.01 2056.07L289.66 2055.95L293.09 2055.95L293.74 2056.07L294.30 2056.42L294.67 2056.94L294.80 2057.55L294.80 2062.39L294.83 2062.52L294.97 2062.55L301.73 2062.55L301.87 2062.52L301.90 2062.39L301.90 2056.92L301.87 2056.77L301.76 2056.64L288.55 2046.03L288.11 2045.48Z"/>
<path fill="#050708" d="M570.85 2029.25L577.77 2029.25L592.18 2068.75L585.27 2068.75ZM585.27 2029.25L592.18 2029.25L577.77 2068.75L570.85 2068.75ZM594.95 2045.11L594.95 2030.83L595.07 2030.23L595.41 2029.71L595.92 2029.37L596.53 2029.25L612.57 2029.25L613.17 2029.37L613.68 2029.71L614.03 2030.23L614.15 2030.83L614.15 2040.03L614.03 2040.64L613.68 2041.15L613.17 2041.49L612.57 2041.61L609.41 2041.61L608.80 2041.49L608.29 2041.15L607.95 2040.64L607.83 2040.03L607.83 2035.53L607.80 2035.40L607.67 2035.37L601.42 2035.37L601.29 2035.40L601.27 2035.53L601.27 2040.93L601.30 2041.09L601.39 2041.21L613.62 2052.08L614.01 2052.62L614.15 2053.26L614.15 2067.17L614.03 2067.77L613.68 2068.29L613.17 2068.63L612.57 2068.75L596.53 2068.75L595.92 2068.63L595.41 2068.29L595.07 2067.77L594.95 2067.17L594.95 2057.69L595.07 2057.09L595.41 2056.57L595.92 2056.23L596.53 2056.11L599.69 2056.11L600.29 2056.23L600.81 2056.57L601.15 2057.09L601.27 2057.69L601.27 2062.47L601.29 2062.60L601.42 2062.63L607.67 2062.63L607.80 2062.60L607.83 2062.47L607.83 2057.07L607.79 2056.92L607.70 2056.79L595.50 2046.31L595.09 2045.77Z"/>
<path fill="#050708" d="M778.96 2045.11L778.96 2030.83L779.08 2030.23L779.42 2029.71L779.94 2029.37L780.54 2029.25L796.58 2029.25L797.18 2029.37L797.70 2029.71L798.04 2030.23L798.16 2030.83L798.16 2040.03L798.04 2040.64L797.70 2041.15L797.18 2041.49L796.58 2041.61L793.42 2041.61L792.81 2041.49L792.30 2041.15L791.96 2040.64L791.84 2040.03L791.84 2035.53L791.81 2035.40L791.68 2035.37L785.44 2035.37L785.31 2035.40L785.28 2035.53L785.28 2040.93L785.31 2041.09L785.41 2041.21L797.63 2052.08L798.02 2052.62L798.16 2053.26L798.16 2067.17L798.04 2067.77L797.70 2068.29L797.18 2068.63L796.58 2068.75L780.54 2068.75L779.94 2068.63L779.42 2068.29L779.08 2067.77L778.96 2067.17L778.96 2057.69L779.08 2057.09L779.42 2056.57L779.94 2056.23L780.54 2056.11L783.70 2056.11L784.31 2056.23L784.82 2056.57L785.16 2057.09L785.28 2057.69L785.28 2062.47L785.31 2062.60L785.44 2062.63L791.68 2062.63L791.81 2062.60L791.84 2062.47L791.84 2057.07L791.80 2056.92L791.71 2056.79L779.51 2046.31L779.11 2045.77Z"/>
<path fill="#050708" d="M971.40 2029.25L977.72 2029.25L977.72 2068.75L971.40 2068.75ZM991.52 2029.25L997.84 2029.25L997.84 2068.75L991.52 2068.75ZM971.40 2029.25L976.14 2029.25L984.62 2052.95L993.10 2029.25L997.84 2029.25L986.36 2065.00L982.88 2065.00Z"/>
<path fill="#050708" d="M1172.57 2029.25L1178.89 2029.25L1178.89 2068.75L1172.57 2068.75ZM1172.57 2062.63L1188.79 2062.63L1188.79 2068.75L1172.57 2068.75Z"/>
<path fill="#050708" d="M1356.59 2029.25L1363.50 2029.25L1377.92 2068.75L1371.00 2068.75ZM1371.00 2029.25L1377.92 2029.25L1363.50 2068.75L1356.59 2068.75ZM1380.68 2029.25L1387.00 2029.25L1387.00 2068.75L1380.68 2068.75ZM1380.68 2062.63L1396.89 2062.63L1396.89 2068.75L1380.68 2068.75Z"/>
<path fill="#050708" d="M1541.67 2040.11L1541.67 2030.83L1541.79 2030.23L1542.13 2029.71L1542.64 2029.37L1543.25 2029.25L1559.28 2029.25L1559.89 2029.37L1560.40 2029.71L1560.74 2030.23L1560.86 2030.83L1560.86 2041.28L1560.66 2042.05L1549.25 2062.48L1549.21 2062.60L1549.33 2062.63L1559.28 2062.63L1559.89 2062.75L1560.40 2063.09L1560.74 2063.60L1560.86 2064.21L1560.86 2067.17L1560.74 2067.77L1560.40 2068.29L1559.89 2068.63L1559.28 2068.75L1543.25 2068.75L1542.64 2068.63L1542.13 2068.29L1541.79 2067.77L1541.67 2067.17L1541.67 2063.27L1541.90 2062.45L1554.43 2041.88L1554.54 2041.47L1554.54 2035.53L1554.52 2035.40L1554.39 2035.37L1548.14 2035.37L1548.01 2035.40L1547.99 2035.53L1547.99 2040.11L1547.87 2040.72L1547.52 2041.23L1547.01 2041.57L1546.41 2041.69L1543.25 2041.69L1542.64 2041.57L1542.13 2041.23L1541.79 2040.72ZM1563.63 2029.25L1570.54 2029.25L1584.96 2068.75L1578.05 2068.75ZM1578.05 2029.25L1584.96 2029.25L1570.54 2068.75L1563.63 2068.75ZM1587.72 2029.25L1594.04 2029.25L1594.04 2068.75L1587.72 2068.75ZM1587.72 2062.63L1603.93 2062.63L1603.93 2068.75L1587.72 2068.75Z"/>
<path fill="#050708" d="M1737.73 2039.91L1737.73 2030.83L1737.85 2030.23L1738.19 2029.71L1738.70 2029.37L1739.31 2029.25L1755.34 2029.25L1755.95 2029.37L1756.46 2029.71L1756.80 2030.23L1756.92 2030.83L1756.92 2042.14L1756.79 2042.78L1756.40 2043.31L1751.12 2048.10L1751.04 2048.21L1751.12 2048.32L1756.42 2053.27L1756.79 2053.80L1756.92 2054.43L1756.92 2067.17L1756.80 2067.77L1756.46 2068.29L1755.95 2068.63L1755.34 2068.75L1739.31 2068.75L1738.70 2068.63L1738.19 2068.29L1737.85 2067.77L1737.73 2067.17L1737.73 2057.69L1737.85 2057.09L1738.19 2056.57L1738.70 2056.23L1739.31 2056.11L1742.47 2056.11L1743.07 2056.23L1743.58 2056.57L1743.93 2057.09L1744.05 2057.69L1744.05 2062.47L1744.07 2062.60L1744.20 2062.63L1750.45 2062.63L1750.58 2062.60L1750.60 2062.47L1750.60 2053.91L1750.57 2053.76L1750.47 2053.63L1745.41 2049.45L1745.05 2049.02L1744.86 2048.50L1744.86 2047.94L1745.06 2047.42L1745.42 2047.00L1750.46 2042.95L1750.57 2042.82L1750.60 2042.66L1750.60 2035.53L1750.58 2035.40L1750.45 2035.37L1744.20 2035.37L1744.07 2035.40L1744.05 2035.53L1744.05 2039.91L1743.93 2040.52L1743.58 2041.03L1743.07 2041.37L1742.47 2041.49L1739.31 2041.49L1738.70 2041.37L1738.19 2041.03L1737.85 2040.52ZM1759.69 2029.25L1766.60 2029.25L1781.02 2068.75L1774.11 2068.75ZM1774.11 2029.25L1781.02 2029.25L1766.60 2068.75L1759.69 2068.75ZM1783.78 2029.25L1790.10 2029.25L1790.10 2068.75L1783.78 2068.75ZM1783.78 2062.63L1799.99 2062.63L1799.99 2068.75L1783.78 2068.75Z"/>
<path fill="#050708" d="M1941.00 2029.25L1948.11 2029.25L1937.76 2055.04L1937.76 2061.64L1931.44 2061.64L1931.44 2057.26ZM1931.44 2055.04L1955.33 2055.04L1955.33 2062.55L1931.44 2062.55ZM1944.96 2043.98L1951.28 2043.98L1951.28 2068.75L1944.96 2068.75ZM1958.09 2029.25L1965.01 2029.25L1979.42 2068.75L1972.51 2068.75ZM1972.51 2029.25L1979.42 2029.25L1965.01 2068.75L1958.09 2068.75ZM1982.19 2029.25L1988.51 2029.25L1988.51 2068.75L1982.19 2068.75ZM1982.19 2062.63L1998.40 2062.63L1998.40 2068.75L1982.19 2068.75Z"/>
<path fill="#050708" d="M2128.57 2049.00L2128.57 2030.83L2128.69 2030.23L2129.03 2029.71L2129.54 2029.37L2130.15 2029.25L2148.74 2029.25L2149.35 2029.37L2149.86 2029.71L2150.20 2030.23L2150.32 2030.83L2150.32 2033.79L2150.20 2034.40L2149.86 2034.91L2149.35 2035.25L2148.74 2035.37L2135.04 2035.37L2134.91 2035.40L2134.89 2035.53L2134.89 2042.92L2134.91 2043.05L2135.04 2043.08L2148.74 2043.08L2149.35 2043.20L2149.86 2043.54L2150.20 2044.05L2150.32 2044.65L2150.32 2067.17L2150.20 2067.77L2149.86 2068.29L2149.35 2068.63L2148.74 2068.75L2130.15 2068.75L2129.54 2068.63L2129.03 2068.29L2128.69 2067.77L2128.57 2067.17L2128.57 2056.51L2128.69 2055.90L2129.03 2055.39L2129.54 2055.05L2130.15 2054.93L2133.31 2054.93L2133.91 2055.05L2134.42 2055.39L2134.77 2055.90L2134.89 2056.51L2134.89 2062.47L2134.91 2062.60L2135.04 2062.63L2143.85 2062.63L2143.98 2062.60L2144.00 2062.47L2144.00 2050.74L2143.98 2050.61L2143.85 2050.58L2130.15 2050.58L2129.54 2050.46L2129.03 2050.12L2128.69 2049.60ZM2153.09 2029.25L2160.00 2029.25L2174.42 2068.75L2167.51 2068.75ZM2167.51 2029.25L2174.42 2029.25L2160.00 2068.75L2153.09 2068.75ZM2177.18 2029.25L2183.50 2029.25L2183.50 2068.75L2177.18 2068.75ZM2177.18 2062.63L2193.39 2062.63L2193.39 2068.75L2177.18 2068.75Z"/>
<path fill="#050708" d="M2324.63 2067.17L2324.63 2030.83L2324.75 2030.23L2325.09 2029.71L2325.60 2029.37L2326.21 2029.25L2344.80 2029.25L2345.41 2029.37L2345.92 2029.71L2346.26 2030.23L2346.38 2030.83L2346.38 2037.55L2346.26 2038.15L2345.92 2038.66L2345.41 2039.00L2344.80 2039.12L2341.64 2039.12L2341.04 2039.00L2340.53 2038.66L2340.18 2038.15L2340.06 2037.55L2340.06 2035.53L2340.04 2035.40L2339.91 2035.37L2331.10 2035.37L2330.97 2035.40L2330.95 2035.53L2330.95 2046.47L2330.97 2046.60L2331.10 2046.63L2344.80 2046.63L2345.41 2046.75L2345.92 2047.09L2346.26 2047.61L2346.38 2048.21L2346.38 2067.17L2346.26 2067.77L2345.92 2068.29L2345.41 2068.63L2344.80 2068.75L2326.21 2068.75L2325.60 2068.63L2325.09 2068.29L2324.75 2067.77ZM2330.95 2053.30L2330.95 2062.47L2330.97 2062.60L2331.10 2062.63L2339.91 2062.63L2340.04 2062.60L2340.06 2062.47L2340.06 2053.30L2340.04 2053.17L2339.91 2053.15L2331.10 2053.15L2330.97 2053.17ZM2349.15 2029.25L2356.06 2029.25L2370.48 2068.75L2363.57 2068.75ZM2363.57 2029.25L2370.48 2029.25L2356.06 2068.75L2349.15 2068.75ZM2373.24 2029.25L2379.56 2029.25L2379.56 2068.75L2373.24 2068.75ZM2373.24 2062.63L2389.45 2062.63L2389.45 2068.75L2373.24 2068.75Z"/>
<rect x="187.5" y="2108.8" width="2250.5" height="99.5" fill="#e6e7e8"/>
<path fill="#58595b" d="M217.34 2149.13L217.31 2149.26L217.31 2176.49L217.34 2176.62L217.46 2176.64L224.37 2176.64L224.49 2176.62L224.52 2176.49L224.52 2170.79L224.64 2170.21L224.97 2169.71L225.48 2169.38L226.07 2169.26L228.78 2169.26L229.37 2169.38L229.88 2169.71L230.21 2170.21L230.33 2170.79L230.33 2180.47L230.21 2181.06L229.88 2181.55L229.37 2181.88L228.78 2182.00L213.05 2182.00L212.46 2181.88L211.95 2181.55L211.62 2181.06L211.50 2180.47L211.50 2145.28L211.62 2144.69L211.95 2144.20L212.46 2143.87L213.05 2143.75L228.78 2143.75L229.37 2143.87L229.88 2144.20L230.21 2144.69L230.33 2145.28L230.33 2154.96L230.21 2155.54L229.88 2156.04L229.37 2156.37L228.78 2156.49L226.07 2156.49L225.48 2156.37L224.97 2156.04L224.64 2155.54L224.52 2154.96L224.52 2149.26L224.49 2149.13L224.37 2149.11L217.46 2149.11ZM235.37 2143.75L241.17 2143.75L241.17 2182.00L235.37 2182.00ZM248.67 2143.75L254.48 2143.75L254.48 2182.00L248.67 2182.00ZM235.37 2159.62L254.48 2159.62L254.48 2165.36L235.37 2165.36ZM259.51 2143.75L265.32 2143.75L265.32 2182.00L259.51 2182.00ZM259.51 2143.75L274.97 2143.75L274.97 2149.11L259.51 2149.11ZM259.51 2159.82L273.81 2159.82L273.81 2165.36L259.51 2165.36ZM259.51 2176.64L274.97 2176.64L274.97 2182.00L259.51 2182.00ZM280.00 2159.12L280.00 2145.28L280.12 2144.69L280.46 2144.20L280.96 2143.87L281.55 2143.75L296.76 2143.75L297.35 2143.87L297.85 2144.20L298.19 2144.69L298.31 2145.28L298.31 2154.19L298.19 2154.78L297.85 2155.27L297.35 2155.61L296.76 2155.72L294.04 2155.72L293.45 2155.61L292.95 2155.27L292.61 2154.78L292.50 2154.19L292.50 2149.26L292.47 2149.13L292.34 2149.11L285.97 2149.11L285.84 2149.13L285.81 2149.26L285.81 2155.06L285.85 2155.21L285.94 2155.33L297.79 2165.86L298.17 2166.38L298.31 2167.00L298.31 2180.47L298.19 2181.06L297.85 2181.55L297.35 2181.88L296.76 2182.00L281.55 2182.00L280.96 2181.88L280.46 2181.55L280.12 2181.06L280.00 2180.47L280.00 2171.29L280.12 2170.70L280.46 2170.21L280.96 2169.88L281.55 2169.76L284.26 2169.76L284.86 2169.88L285.36 2170.21L285.70 2170.70L285.81 2171.29L285.81 2176.49L285.84 2176.62L285.97 2176.64L292.34 2176.64L292.47 2176.62L292.50 2176.49L292.50 2170.69L292.46 2170.54L292.37 2170.42L280.54 2160.27L280.14 2159.75ZM303.34 2143.75L322.86 2143.75L322.86 2149.11L303.34 2149.11ZM310.20 2143.75L316.01 2143.75L316.01 2182.00L310.20 2182.00ZM350.35 2143.75L348.72 2146.86L347.34 2149.98L346.21 2153.09L345.34 2156.21L344.71 2159.32L344.33 2162.44L344.21 2165.55L344.33 2168.67L344.71 2171.78L345.34 2174.90L346.21 2178.01L347.34 2181.13L348.72 2184.24L350.35 2187.36L344.76 2187.36L343.06 2184.24L341.62 2181.13L340.45 2178.01L339.53 2174.90L338.88 2171.78L338.49 2168.67L338.35 2165.55L338.49 2162.44L338.88 2159.32L339.53 2156.21L340.45 2153.09L341.62 2149.98L343.06 2146.86L344.76 2143.75ZM361.22 2149.13L361.20 2149.26L361.20 2176.49L361.22 2176.62L361.35 2176.64L368.25 2176.64L368.38 2176.62L368.41 2176.49L368.41 2170.79L368.53 2170.21L368.86 2169.71L369.36 2169.38L369.96 2169.26L372.67 2169.26L373.26 2169.38L373.76 2169.71L374.10 2170.21L374.22 2170.79L374.22 2180.47L374.10 2181.06L373.76 2181.55L373.26 2181.88L372.67 2182.00L356.94 2182.00L356.34 2181.88L355.84 2181.55L355.51 2181.06L355.39 2180.47L355.39 2145.28L355.51 2144.69L355.84 2144.20L356.34 2143.87L356.94 2143.75L372.67 2143.75L373.26 2143.87L373.76 2144.20L374.10 2144.69L374.22 2145.28L374.22 2154.96L374.10 2155.54L373.76 2156.04L373.26 2156.37L372.67 2156.49L369.96 2156.49L369.36 2156.37L368.86 2156.04L368.53 2155.54L368.41 2154.96L368.41 2149.26L368.38 2149.13L368.25 2149.11L361.35 2149.11ZM384.85 2143.75L386.55 2146.86L387.98 2149.98L389.16 2153.09L390.07 2156.21L390.73 2159.32L391.12 2162.44L391.25 2165.55L391.12 2168.67L390.73 2171.78L390.07 2174.90L389.16 2178.01L387.98 2181.13L386.55 2184.24L384.85 2187.36L379.25 2187.36L380.88 2184.24L382.26 2181.13L383.39 2178.01L384.27 2174.90L384.90 2171.78L385.27 2168.67L385.40 2165.55L385.27 2162.44L384.90 2159.32L384.27 2156.21L383.39 2153.09L382.26 2149.98L380.88 2146.86L379.25 2143.75Z"/>
<text x="592.5" y="2177.5" class="num" style="stroke:#e6e7e8">19</text>
<text x="788.6" y="2177.5" class="num" style="stroke:#e6e7e8">20</text>
<text x="984.6" y="2177.5" class="num" style="stroke:#e6e7e8">22</text>
<text x="1180.7" y="2177.5" class="num" style="stroke:#e6e7e8">24</text>
<text x="1376.7" y="2177.5" class="num" style="stroke:#e6e7e8">26</text>
<text x="1572.8" y="2177.5" class="num" style="stroke:#e6e7e8">28</text>
<text x="1768.9" y="2177.5" class="num" style="stroke:#e6e7e8">30</text>
<text x="1964.9" y="2177.5" class="num" style="stroke:#e6e7e8">32</text>
<text x="2161.0" y="2177.5" class="num" style="stroke:#e6e7e8">33¾</text>
<text x="2357.0" y="2177.5" class="num" style="stroke:#e6e7e8">35¾</text>
<rect x="187.5" y="2223.0" width="2250.5" height="99.5" fill="#f2f2f2"/>
<path fill="#58595b" d="M211.50 2255.50L217.17 2255.50L217.17 2294.50L211.50 2294.50ZM211.50 2289.04L226.58 2289.04L226.58 2294.50L211.50 2294.50ZM231.50 2255.50L237.17 2255.50L237.17 2294.50L231.50 2294.50ZM231.50 2255.50L246.58 2255.50L246.58 2260.96L231.50 2260.96ZM231.50 2271.88L245.45 2271.88L245.45 2277.53L231.50 2277.53ZM231.50 2289.04L246.58 2289.04L246.58 2294.50L231.50 2294.50ZM251.50 2255.50L257.17 2255.50L257.17 2294.50L251.50 2294.50ZM266.07 2255.50L271.74 2255.50L271.74 2294.50L266.07 2294.50ZM251.50 2255.50L257.17 2255.50L266.07 2278.90L271.74 2294.50L266.07 2294.50L257.17 2269.93L251.50 2260.18ZM276.66 2292.94L276.66 2257.06L276.77 2256.46L277.10 2255.96L277.59 2255.62L278.17 2255.50L294.99 2255.50L295.57 2255.62L296.06 2255.96L296.39 2256.46L296.50 2257.06L296.50 2265.64L296.39 2266.24L296.06 2266.74L295.57 2267.08L294.99 2267.20L292.35 2267.20L291.77 2267.08L291.28 2266.74L290.95 2266.24L290.83 2265.64L290.83 2261.11L290.81 2260.99L290.68 2260.96L282.48 2260.96L282.35 2260.99L282.33 2261.11L282.33 2288.89L282.35 2289.01L282.48 2289.04L290.68 2289.04L290.81 2289.01L290.83 2288.89L290.83 2278.86L290.81 2278.73L290.68 2278.70L288.19 2278.70L287.61 2278.59L287.12 2278.25L286.79 2277.74L286.68 2277.14L286.68 2275.39L286.79 2274.79L287.12 2274.29L287.61 2273.95L288.19 2273.83L294.99 2273.83L295.57 2273.95L296.06 2274.29L296.39 2274.79L296.50 2275.39L296.50 2292.94L296.39 2293.54L296.06 2294.04L295.57 2294.38L294.99 2294.50L278.17 2294.50L277.59 2294.38L277.10 2294.04L276.77 2293.54ZM301.42 2255.50L320.47 2255.50L320.47 2260.96L301.42 2260.96ZM308.11 2255.50L313.78 2255.50L313.78 2294.50L308.11 2294.50ZM325.39 2255.50L331.06 2255.50L331.06 2294.50L325.39 2294.50ZM338.37 2255.50L344.04 2255.50L344.04 2294.50L338.37 2294.50ZM325.39 2271.68L344.04 2271.68L344.04 2277.53L325.39 2277.53ZM370.88 2255.50L369.29 2258.68L367.94 2261.85L366.84 2265.03L365.98 2268.20L365.37 2271.38L365.00 2274.55L364.88 2277.73L365.00 2280.91L365.37 2284.08L365.98 2287.26L366.84 2290.43L367.94 2293.61L369.29 2296.78L370.88 2299.96L365.42 2299.96L363.76 2296.78L362.35 2293.61L361.21 2290.43L360.31 2287.26L359.68 2284.08L359.29 2280.91L359.17 2277.73L359.29 2274.55L359.68 2271.38L360.31 2268.20L361.21 2265.03L362.35 2261.85L363.76 2258.68L365.42 2255.50ZM375.79 2255.50L381.46 2255.50L381.46 2294.50L375.79 2294.50ZM375.79 2289.04L390.88 2289.04L390.88 2294.50L375.79 2294.50ZM401.25 2255.50L402.91 2258.68L404.31 2261.85L405.46 2265.03L406.35 2268.20L406.99 2271.38L407.37 2274.55L407.50 2277.73L407.37 2280.91L406.99 2284.08L406.35 2287.26L405.46 2290.43L404.31 2293.61L402.91 2296.78L401.25 2299.96L395.79 2299.96L397.38 2296.78L398.73 2293.61L399.83 2290.43L400.69 2287.26L401.30 2284.08L401.66 2280.91L401.79 2277.73L401.66 2274.55L401.30 2271.38L400.69 2268.20L399.83 2265.03L398.73 2261.85L397.38 2258.68L395.79 2255.50Z"/>
<text x="592.5" y="2295.0" class="num" style="stroke:#f2f2f2">25½</text>
<text x="788.6" y="2295.0" class="num" style="stroke:#f2f2f2">26¾</text>
<text x="984.6" y="2295.0" class="num" style="stroke:#f2f2f2">28</text>
<text x="1180.7" y="2295.0" class="num" style="stroke:#f2f2f2">29¼</text>
<text x="1376.7" y="2295.0" class="num" style="stroke:#f2f2f2">30¼</text>
<text x="1572.8" y="2295.0" class="num" style="stroke:#f2f2f2">31½</text>
<text x="1768.9" y="2295.0" class="num" style="stroke:#f2f2f2">32¾</text>
<text x="1964.9" y="2295.0" class="num" style="stroke:#f2f2f2">33¾</text>
<text x="2161.0" y="2295.0" class="num" style="stroke:#f2f2f2">35</text>
<text x="2357.0" y="2295.0" class="num" style="stroke:#f2f2f2">35</text>
<rect x="187.5" y="2338.0" width="2250.5" height="99.5" fill="#e6e7e8"/>
<path fill="#58595b" d="M211.50 2381.62L211.50 2367.78L211.62 2367.19L211.95 2366.70L212.46 2366.37L213.05 2366.25L228.30 2366.25L228.89 2366.37L229.39 2366.70L229.73 2367.19L229.85 2367.78L229.85 2376.69L229.73 2377.28L229.39 2377.77L228.89 2378.11L228.30 2378.22L225.58 2378.22L224.98 2378.11L224.48 2377.77L224.14 2377.28L224.02 2376.69L224.02 2371.76L224.00 2371.63L223.87 2371.61L217.48 2371.61L217.35 2371.63L217.33 2371.76L217.33 2377.56L217.36 2377.71L217.45 2377.83L229.33 2388.36L229.72 2388.88L229.85 2389.50L229.85 2402.97L229.73 2403.56L229.39 2404.05L228.89 2404.38L228.30 2404.50L213.05 2404.50L212.46 2404.38L211.95 2404.05L211.62 2403.56L211.50 2402.97L211.50 2393.79L211.62 2393.20L211.95 2392.71L212.46 2392.38L213.05 2392.26L215.77 2392.26L216.37 2392.38L216.87 2392.71L217.21 2393.20L217.33 2393.79L217.33 2398.99L217.35 2399.12L217.48 2399.14L223.87 2399.14L224.00 2399.12L224.02 2398.99L224.02 2393.19L223.99 2393.04L223.90 2392.92L212.03 2382.77L211.64 2382.25ZM234.90 2366.25L240.72 2366.25L240.72 2404.50L234.90 2404.50ZM234.90 2399.14L250.39 2399.14L250.39 2404.50L234.90 2404.50ZM255.44 2366.25L261.27 2366.25L261.27 2404.50L255.44 2404.50ZM255.44 2366.25L270.94 2366.25L270.94 2371.61L255.44 2371.61ZM255.44 2382.32L269.77 2382.32L269.77 2387.86L255.44 2387.86ZM255.44 2399.14L270.94 2399.14L270.94 2404.50L255.44 2404.50ZM275.99 2366.25L281.81 2366.25L281.81 2404.50L275.99 2404.50ZM275.99 2366.25L291.48 2366.25L291.48 2371.61L275.99 2371.61ZM275.99 2382.32L290.32 2382.32L290.32 2387.86L275.99 2387.86ZM275.99 2399.14L291.48 2399.14L291.48 2404.50L275.99 2404.50ZM296.53 2366.25L302.74 2366.25L306.72 2393.79L310.70 2366.25L316.92 2366.25L310.02 2404.50L303.42 2404.50ZM321.97 2366.25L327.79 2366.25L327.79 2404.50L321.97 2404.50ZM321.97 2366.25L337.46 2366.25L337.46 2371.61L321.97 2371.61ZM321.97 2382.32L336.30 2382.32L336.30 2387.86L321.97 2387.86ZM321.97 2399.14L337.46 2399.14L337.46 2404.50L321.97 2404.50ZM365.02 2366.25L363.39 2369.36L362.01 2372.48L360.88 2375.59L360.00 2378.71L359.37 2381.82L358.99 2384.94L358.86 2388.05L358.99 2391.17L359.37 2394.28L360.00 2397.40L360.88 2400.51L362.01 2403.63L363.39 2406.74L365.02 2409.86L359.41 2409.86L357.71 2406.74L356.27 2403.63L355.09 2400.51L354.17 2397.40L353.52 2394.28L353.13 2391.17L353.00 2388.05L353.13 2384.94L353.52 2381.82L354.17 2378.71L355.09 2375.59L356.27 2372.48L357.71 2369.36L359.41 2366.25ZM370.07 2381.62L370.07 2367.78L370.19 2367.19L370.53 2366.70L371.03 2366.37L371.63 2366.25L386.87 2366.25L387.46 2366.37L387.97 2366.70L388.30 2367.19L388.42 2367.78L388.42 2376.69L388.30 2377.28L387.97 2377.77L387.46 2378.11L386.87 2378.22L384.15 2378.22L383.56 2378.11L383.05 2377.77L382.72 2377.28L382.60 2376.69L382.60 2371.76L382.57 2371.63L382.44 2371.61L376.05 2371.61L375.92 2371.63L375.90 2371.76L375.90 2377.56L375.93 2377.71L376.02 2377.83L387.91 2388.36L388.29 2388.88L388.42 2389.50L388.42 2402.97L388.30 2403.56L387.97 2404.05L387.46 2404.38L386.87 2404.50L371.63 2404.50L371.03 2404.38L370.53 2404.05L370.19 2403.56L370.07 2402.97L370.07 2393.79L370.19 2393.20L370.53 2392.71L371.03 2392.38L371.63 2392.26L374.34 2392.26L374.94 2392.38L375.44 2392.71L375.78 2393.20L375.90 2393.79L375.90 2398.99L375.92 2399.12L376.05 2399.14L382.44 2399.14L382.57 2399.12L382.60 2398.99L382.60 2393.19L382.56 2393.04L382.47 2392.92L370.61 2382.77L370.21 2382.25ZM399.08 2366.25L400.78 2369.36L402.22 2372.48L403.40 2375.59L404.32 2378.71L404.98 2381.82L405.37 2384.94L405.50 2388.05L405.37 2391.17L404.98 2394.28L404.32 2397.40L403.40 2400.51L402.22 2403.63L400.78 2406.74L399.08 2409.86L393.47 2409.86L395.11 2406.74L396.49 2403.63L397.62 2400.51L398.50 2397.40L399.13 2394.28L399.51 2391.17L399.63 2388.05L399.51 2384.94L399.13 2381.82L398.50 2378.71L397.62 2375.59L396.49 2372.48L395.11 2369.36L393.47 2366.25Z"/>
<text x="592.5" y="2406.5" class="num" style="stroke:#e6e7e8">33</text>
<text x="788.6" y="2406.5" class="num" style="stroke:#e6e7e8">35</text>
<text x="984.6" y="2406.5" class="num" style="stroke:#e6e7e8">36¼</text>
<text x="1180.7" y="2406.5" class="num" style="stroke:#e6e7e8">37½</text>
<text x="1376.7" y="2406.5" class="num" style="stroke:#e6e7e8">38½</text>
<text x="1572.8" y="2406.5" class="num" style="stroke:#e6e7e8">39¾</text>
<text x="1768.9" y="2406.5" class="num" style="stroke:#e6e7e8">41</text>
<text x="1964.9" y="2406.5" class="num" style="stroke:#e6e7e8">42¼</text>
<text x="2161.0" y="2406.5" class="num" style="stroke:#e6e7e8">43¼</text>
<text x="2357.0" y="2406.5" class="num" style="stroke:#e6e7e8">44½</text>
</svg>
<div class="sub" style="left:188px;top:398px;line-height:69.8px;font-size:68.5px;letter-spacing:4px;transform:scaleX(0.775)">NORTH AMERICAN SPECS</div>
<div class="para" style="left:2528px;top:1598px;font-size:43.6px;line-height:50px;width:690px;letter-spacing:0.45px;transform:scaleX(0.955)">
<div>Measure around the fullest part of</div>
<div>your chest (usually at nipple level).</div>
<div class="last">Keep the tape flat but not tight.</div>
</div>
<div class="para" style="left:2518px;top:1906.6px;font-size:32px;line-height:35.2px;width:740px;transform:scaleX(0.905)">
<div>Our garments are handcrafted with care, which may</div>
<div>result in slight measurement variations: ±0.5 inches</div>
<div>for smaller measurements and ±1 inch for larger</div>
<div class="last">measurements.</div>
</div>
<div class="para" style="left:2518px;top:2071px;font-size:32px;line-height:35.2px;width:740px;transform:scaleX(0.905)">
<div>All designs were originally created using metric</div>
<div>measurements (cm) and converted to inches. While</div>
<div>we strive for accuracy in conversion, slight</div>
<div class="last">variations may occur.</div>
</div>
<div class="para" style="left:2518px;top:2233.8px;font-size:32px;line-height:35.2px;width:740px;transform:scaleX(0.905)">
<div>Listed measurements represent the garment's</div>
<div>dimensions when laid flat on a surface. These are</div>
<div>not body measurements or size recommendations.</div>
<div>Please compare these garment measurements with</div>
<div>clothing that fits you well for the most accurate size</div>
<div class="last">selection.</div>
</div>

</body></html>
